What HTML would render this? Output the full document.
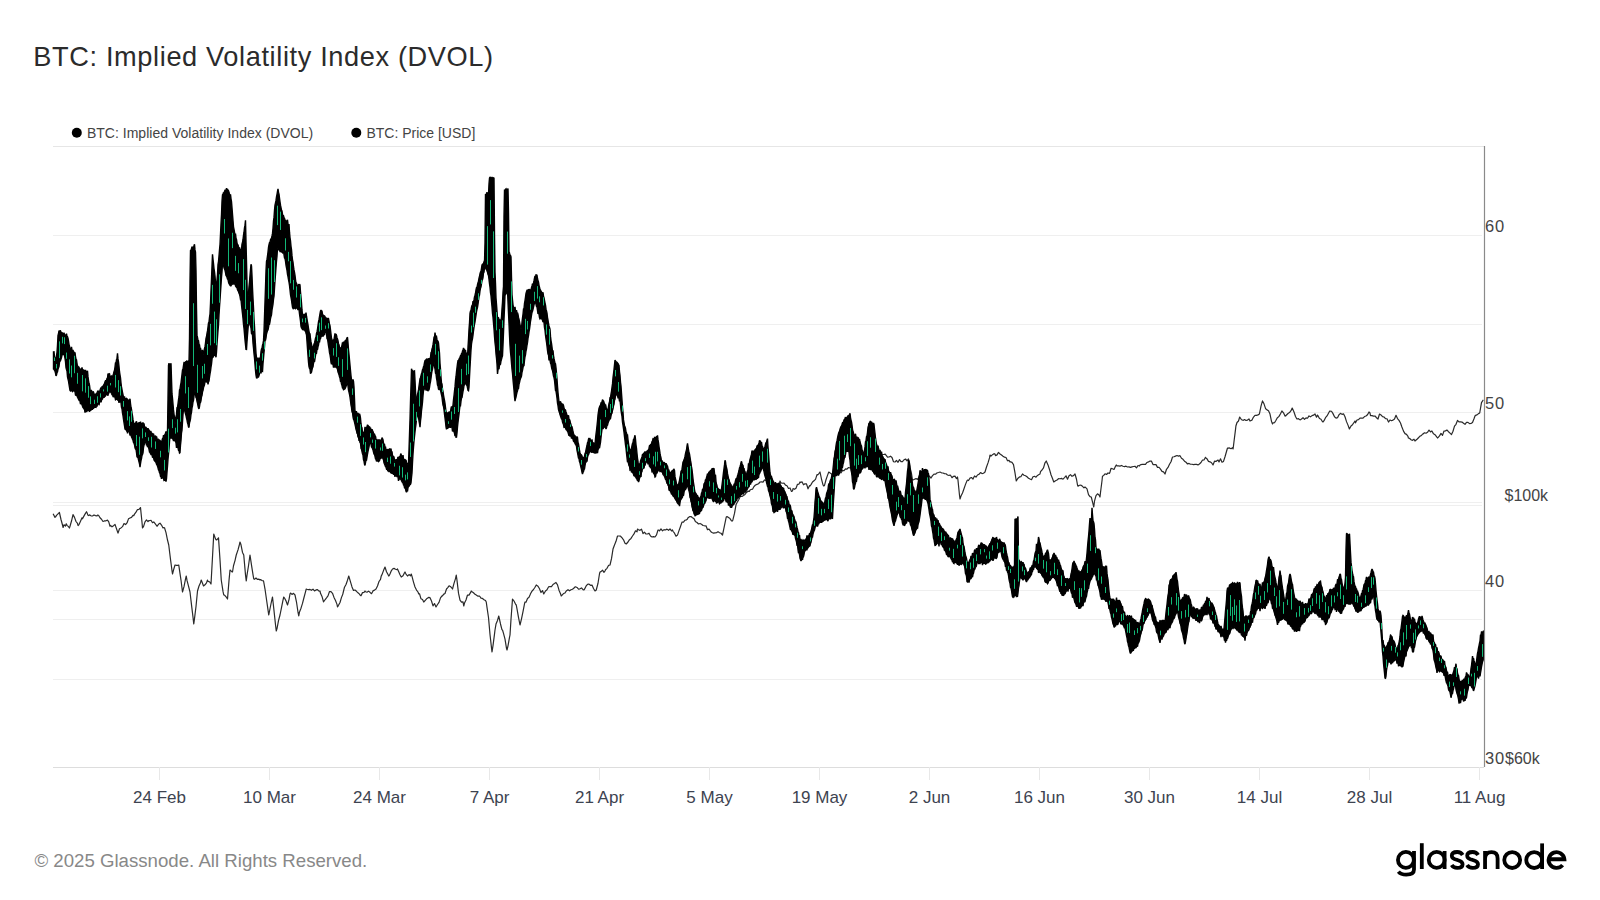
<!DOCTYPE html>
<html><head><meta charset="utf-8">
<style>
html,body{margin:0;padding:0;background:#fff;width:1600px;height:900px;overflow:hidden}
svg{position:absolute;left:0;top:0;display:block}
text{font-family:"Liberation Sans",sans-serif}
</style></head><body>
<svg width="1600" height="900" viewBox="0 0 1600 900">
<rect width="1600" height="900" fill="#fff"/>
<text x="33.3" y="66" font-size="27.2" letter-spacing="0.62" fill="#2b2b2b">BTC: Implied Volatility Index (DVOL)</text>
<circle cx="76.8" cy="132.8" r="5" fill="#000"/>
<text x="86.9" y="137.6" font-size="14" letter-spacing="0.02" fill="#444444">BTC: Implied Volatility Index (DVOL)</text>
<circle cx="356.3" cy="132.8" r="5" fill="#000"/>
<text x="366.4" y="137.6" font-size="14" fill="#444444">BTC: Price [USD]</text>
<g stroke="#efefef" stroke-width="1"><line x1="53" y1="235.5" x2="1482" y2="235.5"/><line x1="53" y1="324.5" x2="1482" y2="324.5"/><line x1="53" y1="412.5" x2="1482" y2="412.5"/><line x1="53" y1="502.5" x2="1482" y2="502.5"/><line x1="53" y1="505.5" x2="1482" y2="505.5"/><line x1="53" y1="590.5" x2="1482" y2="590.5"/><line x1="53" y1="619.5" x2="1482" y2="619.5"/><line x1="53" y1="679.5" x2="1482" y2="679.5"/></g>
<line x1="53" y1="146.5" x2="1484" y2="146.5" stroke="#e6e6e6" stroke-width="1"/>
<line x1="53" y1="767.5" x2="1484" y2="767.5" stroke="#dddddd" stroke-width="1.2"/>
<g stroke="#e8e8e8" stroke-width="1"><line x1="159.5" y1="767" x2="159.5" y2="780"/><line x1="269.5" y1="767" x2="269.5" y2="780"/><line x1="379.5" y1="767" x2="379.5" y2="780"/><line x1="489.5" y1="767" x2="489.5" y2="780"/><line x1="599.5" y1="767" x2="599.5" y2="780"/><line x1="709.5" y1="767" x2="709.5" y2="780"/><line x1="819.5" y1="767" x2="819.5" y2="780"/><line x1="929.5" y1="767" x2="929.5" y2="780"/><line x1="1039.5" y1="767" x2="1039.5" y2="780"/><line x1="1149.5" y1="767" x2="1149.5" y2="780"/><line x1="1259.5" y1="767" x2="1259.5" y2="780"/><line x1="1369.5" y1="767" x2="1369.5" y2="780"/><line x1="1479.5" y1="767" x2="1479.5" y2="780"/></g>
<path d="M53.1,513.75 L55,517.37 L55.6,516.9 L56.5,515.4 L58,513.85 L59.4,512.5 L61,519.5 L62.5,525.02 L63.1,527.5 L64,524.77 L65.5,526.05 L66.25,523.75 L67,525.37 L68.5,526.66 L69.4,528 L70,526.21 L71.5,521.02 L73,514.59 L74.5,517.4 L76,521.51 L77.5,523.47 L78.1,525.6 L79,524.55 L80.5,521.26 L82,517.8 L82.5,518.75 L83.5,516.91 L85,514.12 L86.5,511.72 L86.9,512.5 L88,515.15 L88.75,515.6 L89.5,514.88 L91,515.79 L92.5,515.99 L94,514.97 L95.5,515.63 L97,515.97 L97.5,515 L98.5,515.27 L100,517.81 L101.5,519.22 L103,521.49 L103.75,521.25 L104.5,520.75 L106,520.79 L107.5,520.18 L108.75,521.9 L110,526.25 L110.5,525.4 L112,526.76 L113.5,525.69 L115,524.4 L116.5,528.68 L118,533.1 L119.5,528.81 L121,527.9 L122.5,526.65 L124,523.58 L125.5,524.53 L126.25,523.75 L127,522.95 L128.5,518.85 L130,517.95 L131.5,517.33 L133,515.28 L133.75,515.6 L134.5,514.2 L136,512.13 L137.5,509.53 L139,509.48 L140.5,507.54 L142,522.29 L142.5,528 L143.5,526.69 L145,521.9 L146.5,519.96 L148,521.65 L148.75,520.6 L149.5,520.71 L151,520.28 L152.5,522.71 L153.75,521.9 L155.5,524.14 L157,526.28 L157.5,525.6 L158.5,524.33 L160,523.1 L161.5,525.08 L163,527.98 L163.75,527.5 L164.5,527.77 L166,532.61 L167.5,540.01 L168.75,545 L170.5,559.38 L171.25,565 L172,570.67 L172.5,574 L173.5,570.22 L175,565 L176.5,565.35 L178,565.28 L178.75,565 L179.5,570.2 L181,580.04 L182.5,592 L184,586.69 L185.5,579.03 L186.25,576 L187,580.4 L188.5,586.08 L190,592 L191.5,604.86 L193,617.18 L193.75,624 L194.5,618.59 L196,606.51 L197.5,591 L199,586.02 L200.5,582.74 L201.25,580 L202,581.86 L203.5,585.99 L205,584.84 L206.5,582.85 L207.5,580 L208,581.36 L209.5,581.76 L211,584.03 L212.5,557.08 L213.75,534 L215.5,538.92 L216.25,540 L217,539.62 L218.5,537.79 L220,559.69 L221.25,580 L223,591.42 L223.75,595 L224.5,595.17 L226,596.74 L227.5,599 L229,580.58 L230,570 L230.5,570.32 L232,571.83 L232.5,572 L233.5,565.74 L235,560.6 L236.25,555 L238,549.91 L239.5,544.25 L240,542 L241,544.82 L242.5,552.48 L243.75,555 L245.5,574.85 L246.25,581 L247,575.06 L248.5,565.75 L250,555 L251.5,565.1 L253,574.69 L253.75,579 L254.5,579.28 L256,578.01 L257.5,579.45 L259,579.17 L260,580 L260.5,579.58 L262,580.56 L263.5,580.74 L265,589.03 L266.5,599.53 L268,609.83 L268.75,615 L269.5,611.25 L271,603.75 L272.5,597 L274,610.61 L275.5,624.72 L276.25,631 L277,628.6 L278.5,620.71 L280,615 L281.5,607.62 L283,600.09 L283.75,597 L284.5,598.08 L286,600.84 L287.5,605 L289,599.58 L290,594 L290.5,593.05 L292,594.41 L293.5,593.3 L295,595 L296.5,602.03 L298,612.23 L298.75,616 L299.5,611.99 L301,608.17 L302.5,603.4 L304,597.52 L305.5,591.93 L306.25,589 L307,589.25 L308.5,589.63 L310,589.43 L311.5,590.33 L313,589.13 L314.5,590.91 L316,589.96 L317.5,589.65 L319,591.18 L320,591 L320.5,593.33 L322,596.4 L323.5,601.89 L325,599.76 L326.5,597.86 L328,595.85 L329.5,591.48 L331,591.54 L332.5,593.27 L334,597.41 L335.5,600.55 L337,604.36 L337.5,607 L338.5,605.34 L340,602.5 L341.5,597.38 L342.5,595 L343,593.24 L344.5,587.2 L346,584.49 L347.5,580.2 L348.75,576 L350.5,581.87 L352,586.92 L353.5,590.42 L355,590 L356.5,591.3 L358,592.81 L359.5,594.18 L360,595 L361,595.75 L362.5,592.63 L364,592.43 L365,591 L365.5,591.71 L367,592.21 L368.5,591.12 L370,592.33 L371.5,593.69 L372.5,592 L373,590.84 L374.5,590.15 L376,588.94 L377.5,586 L379,581.49 L380.5,579.39 L381.25,576 L382,574.65 L383.5,570.59 L385,567 L386.5,571.7 L388,574.51 L388.75,576 L389.5,575.14 L391,571.41 L392.5,569 L394,568.38 L395.5,569.24 L397,569.57 L397.5,569 L398.5,571.17 L400,574.76 L401.25,577 L403,575.73 L404.5,572.8 L405,572 L406,574.09 L407.5,576 L409,574.56 L410.5,575.78 L411.25,574 L412,576.35 L413.5,582.11 L415,587 L416.5,590.05 L418,592 L418.75,594 L419.5,593.78 L421,598.8 L422.5,599.54 L423.75,602 L425.5,600.05 L427,598.42 L428.5,597.39 L430,597.64 L431.5,601.02 L433,605.93 L434.5,603.52 L436,606.97 L437.5,604.52 L439,602.33 L440.5,597.89 L442,595.84 L442.5,596 L443.5,594.37 L445,593.47 L446.5,588.97 L448,587.36 L448.75,586 L449.5,585.91 L451,586.99 L452.5,589 L454,583.36 L455.5,578.56 L456.25,575 L457,580.32 L458.5,593.19 L460,600.12 L461.5,602.19 L463,601.85 L463.75,606 L464.5,603.01 L466,599.96 L467.5,595 L469,595.14 L470.5,592.64 L471.25,591 L472,591.77 L473.5,592.76 L475,594.31 L476.25,595 L478,596.18 L479.5,595.98 L481,598.05 L482.5,598.42 L484,599.68 L485.5,600.54 L486.25,602 L487,607.43 L488.5,617.49 L490,634.45 L491.5,647.89 L492,652 L493,645.61 L494.5,634.06 L495,630 L496,624.04 L497.5,620.46 L498.75,616 L500.5,623.98 L502,629.79 L502.5,630 L503.5,633.4 L505,639.13 L506.5,648.29 L507,650 L508,645.87 L509.5,637.39 L510,635 L511,619.25 L512.5,599 L514,601 L515.5,604.11 L516.25,605 L517,608.89 L518.5,617.29 L520,625 L521.5,618.78 L523,611.65 L524.5,603.81 L525,602 L526,602.17 L527.5,598.41 L529,597.29 L530,595 L530.5,593.69 L532,591.13 L533.5,589.51 L535,587.23 L536.25,585 L538,586.19 L539.5,588.8 L540,590 L541,592.51 L542.5,590.54 L543.75,594 L545.5,591.06 L547,589.84 L548.5,586.91 L550,586.49 L551.5,586.57 L553,584.49 L554.5,583.56 L556,582.5 L557.5,584.82 L559,590.19 L560.5,593.71 L561.25,596 L562,595.22 L563.5,593.55 L565,592.93 L566.25,591 L568,589.72 L569.5,590.82 L571,589.72 L572.5,589.29 L574,588 L575,587 L575.5,586.79 L577,587.43 L578.5,589.05 L580,588.81 L581.5,587.89 L583,589.71 L583.75,590 L584.5,589.25 L586,586.22 L587.5,584.36 L588.75,584 L590.5,585.33 L592,585.1 L593.5,588.47 L595,590.95 L596.25,590 L598,583.24 L599.5,573.78 L600,572 L601,571.64 L602.5,570.2 L604,572.37 L605,571 L605.5,569.72 L607,568.35 L608.5,565.44 L610,565 L611.5,558.64 L613,549.06 L613.75,547 L614.5,544.93 L616,541.34 L617.5,536 L619,535.99 L620.5,536.13 L621.25,537 L622,537.72 L623.5,539.87 L625,543.22 L626.25,544 L628,542 L629.5,539.67 L631,538.43 L632.5,536 L634,533.88 L635.5,530.85 L637,531.85 L637.5,529 L638.5,529.73 L640,530.33 L641.5,529.14 L642.5,532 L643,533.67 L644.5,532.14 L646,534.02 L647.5,534 L649,533.21 L650.5,536.04 L652,537.02 L653.5,536.61 L655,537 L656.5,534.91 L658,530.01 L658.75,530 L659.5,530.95 L661,528.88 L662.5,530.89 L664,529.62 L665,530 L665.5,529.9 L667,529.13 L668.5,530.29 L670,528.95 L671.5,530.95 L672.5,530 L673,531.25 L674.5,533.2 L676,536.24 L677.5,535.07 L679,530.59 L680.5,526.44 L682,522.07 L682.5,522 L683.5,522.06 L685,520.21 L686.5,519.82 L687.5,519 L688,517.69 L689.5,516.66 L691,516.52 L692.5,517.77 L694,518.63 L695.5,521.76 L696.25,522 L697,522.5 L698.5,523.96 L700,523.46 L701.5,524.3 L703,525.51 L704.5,525.74 L705,526 L706,525.83 L707.5,529.68 L709,529.14 L710.5,531.13 L711.25,532 L712,532.54 L713.5,533.15 L715,532.96 L716.5,532.75 L717.5,532 L718,531.6 L719.5,532.78 L721,533.26 L722.5,535 L724,527.97 L725.5,520.58 L726.25,517 L727,516.62 L728.5,517.62 L730,518.61 L731.5,520.81 L732.5,521 L733,519.39 L734.5,513.44 L736,504.85 L737.5,501.83 L739,499.27 L740,497 L740.5,496.17 L742,496.51 L743.5,495.54 L745,494.47 L746.5,492.49 L748,491.21 L749.5,491.32 L750,490 L751,489.5 L752.5,489.19 L754,486.47 L755.5,485.05 L757,484.39 L758.5,483.74 L760,482 L761.5,481.94 L763,482.1 L764.5,479.96 L766,480.43 L767.5,481 L769,481.36 L770.5,482.19 L772,483.51 L773.5,484.97 L775,487 L776.5,484.28 L778,483.61 L779.5,483.13 L780,481 L781,482.95 L782.5,483.26 L784,483.19 L785.5,485.17 L787,485.72 L788.5,488.49 L790,487.96 L791.5,491.39 L792.5,491 L793,488.58 L794.5,489.31 L796,488.2 L797.5,484.29 L799,484.09 L800,482 L800.5,482.56 L802,481.84 L803.5,484.77 L805,483.72 L806.5,483.96 L807.5,487 L808,488.86 L809.5,485.66 L810,486 L811,484.63 L812.5,482.04 L814,480.69 L815.5,479.41 L817,474.62 L817.5,475 L818.5,474.11 L820,472 L821.5,479.05 L823,484.95 L823.75,486 L824.5,485.46 L826,479.75 L827.5,475.35 L828.75,472 L830.5,473.25 L832,474.24 L833.5,476.22 L835,475.62 L836.5,474.62 L838,471.91 L839.5,471.11 L841,472.89 L842.5,470.4 L844,470.72 L845.5,468.97 L847,469.13 L848.5,467.5 L850,468 L851.5,466.84 L853,467.41 L854.5,467.11 L856,468.13 L857.5,465.52 L859,466.53 L860.5,466.13 L862,466.56 L863.5,466.26 L865,465.18 L866.5,465.58 L868,464.78 L868.75,465 L869.5,464.55 L871,463.33 L872.5,463.18 L874,462.81 L875,462 L875.5,461.16 L877,460.68 L878.5,460.52 L880,456.13 L881.5,455.23 L883,454.53 L884.5,454.3 L885,454 L886,455.15 L887.5,457.09 L889,457 L890.5,456.18 L892,457.52 L893.5,461.72 L895,462 L896.5,460.49 L898,462.32 L899.5,459.59 L901,461.65 L902.5,461.59 L903.75,460 L905.5,459 L907,460.76 L908.5,459.01 L910,467.44 L911.5,473.59 L912.5,480 L913,480 L914.5,479.27 L916,478.59 L917.5,479.36 L919,477.18 L920.5,478.38 L922,478.01 L923.5,478.72 L925,476.73 L926.5,479.14 L928,477.06 L929.5,476.06 L930,477 L931,478 L932.5,475.58 L934,474.2 L935.5,474.26 L937,472.88 L938.5,472.47 L940,472 L941.5,472.8 L943,473.03 L944.5,473.66 L946,473.75 L947.5,475.01 L949,475.49 L950,475 L950.5,475.23 L952,477.71 L953.5,476.31 L955,476.17 L956.5,478.58 L957.5,477 L958,480.41 L959.5,495.21 L960,499 L961,496.02 L962.5,492.96 L964,488.75 L965.5,484.38 L967,480.77 L967.5,480 L968.5,480.55 L970,478.1 L971.5,477.49 L973,479.08 L974.5,476 L976,477.09 L977.5,475 L979,474.26 L980.5,472.52 L982,473.61 L983.5,473.21 L985,472 L986.5,466.96 L988,462.88 L989.5,457.95 L990,455 L991,456.09 L992.5,454.66 L994,453.69 L995,454 L995.5,455.69 L997,454.89 L998.5,452.39 L1000,454 L1001.5,455.07 L1003,456.24 L1004.5,457.14 L1006,457.49 L1007.5,460.78 L1009,460.35 L1010,462 L1010.5,461.72 L1012,462.41 L1013.5,464.54 L1015,472.85 L1016.25,481 L1018,478.19 L1019.5,476.94 L1021,476.55 L1022.5,474 L1024,475.21 L1025.5,475.7 L1027,476.77 L1028.5,478.19 L1030,479 L1031.5,479.7 L1033,476.79 L1034.5,476.24 L1036,477.2 L1037.5,475.45 L1039,474.54 L1040,474 L1040.5,471.55 L1042,470.01 L1043.5,467.8 L1045,462.79 L1046.25,461 L1048,464.89 L1049.5,469.44 L1051,474.76 L1052.5,478.5 L1053.75,482 L1055.5,480.73 L1057,479.96 L1058.5,478.69 L1060,478.77 L1061.5,478.37 L1062.5,479 L1063,479.08 L1064.5,477.6 L1066,475.81 L1067.5,479.24 L1069,475.65 L1070.5,474.67 L1072,476.32 L1073.5,475.65 L1075,474 L1076.5,479.27 L1077.5,485 L1078,486.15 L1079.5,485.25 L1081,485.21 L1082.5,486.31 L1084,487.82 L1085,487 L1085.5,487.45 L1087,488.95 L1088.5,494.55 L1090,496.64 L1091.25,497 L1093,503.88 L1093.75,507 L1094.5,501.21 L1096,495.55 L1097.5,493.8 L1099,495.01 L1100,497 L1100.5,492.48 L1102,480.72 L1102.5,476 L1103.5,475.7 L1105,473.82 L1106.5,474.48 L1108,472.96 L1109.5,473.33 L1110,472 L1111,468.39 L1112.5,468.77 L1114,469.46 L1115.5,466.26 L1116.25,465 L1117,465.93 L1118.5,465.85 L1120,466.08 L1121.5,465.47 L1123,466.27 L1124.5,466.65 L1126,466.15 L1127.5,467 L1129,466.89 L1130.5,467.39 L1132,466.86 L1133.5,466.48 L1135,466.25 L1136.5,467.89 L1138,465.55 L1139.5,466.02 L1140,465 L1141,464.65 L1142.5,464.24 L1144,464.34 L1145.5,464.32 L1147,462.48 L1148.5,461.93 L1150,461 L1151.5,461.21 L1153,464.61 L1154.5,464.67 L1156,464.65 L1157.5,467.37 L1159,467.25 L1160.5,469.2 L1162,471.42 L1163.5,471.87 L1165,474 L1166.5,469.28 L1168,467.44 L1169.5,464.31 L1171,461.72 L1172.5,457 L1174,456.74 L1175.5,456.12 L1177,455.51 L1178.5,456.11 L1180,455.7 L1181.5,458.31 L1183,459.3 L1184.5,461.14 L1186,462.23 L1187.5,464 L1189,463.42 L1190.5,464.24 L1192,464.26 L1193.5,464.56 L1195,464.42 L1196.5,464.39 L1198,464.89 L1199.4,464 L1201,462.54 L1202.5,460.04 L1204,459.97 L1205.5,457.32 L1205.9,458 L1207,458.84 L1208.5,461.35 L1210,461.81 L1211.5,462.76 L1213,464.95 L1213.4,464 L1214.5,461.19 L1216,461.42 L1217.5,460.27 L1218.1,460 L1219,461.94 L1220.5,458.82 L1222,462.24 L1223.5,461.42 L1225,456.77 L1226.5,451.54 L1227.5,448 L1228,448.17 L1229.5,447.94 L1231,448.76 L1232.5,447.67 L1233.1,449 L1234,441.52 L1235.5,429.6 L1235.9,426 L1237,422.45 L1238.5,421.04 L1239.7,417 L1241.5,419.74 L1242.5,420 L1243,420.41 L1244.5,419.54 L1246,420.52 L1247.5,420.09 L1249,418.92 L1250,421 L1250.5,420.7 L1252,420.09 L1253.5,417.09 L1255,415.38 L1256.5,415.39 L1258,414.87 L1259.4,414 L1261,406.12 L1262.5,400.9 L1264,403.85 L1265.5,408.41 L1265.9,409 L1267,409.85 L1268.5,410.66 L1270,414.06 L1271.5,421.34 L1272.5,424 L1273,422.94 L1274.5,422.74 L1276,420.23 L1277.2,418 L1279,416.41 L1280.5,413.74 L1281.9,411 L1283.5,412.83 L1285,416.11 L1285.6,416 L1286.5,414.96 L1288,413.46 L1289.5,412.58 L1291,410.64 L1292.2,408 L1294,412.06 L1295.5,416.56 L1296.9,419 L1298.5,418.7 L1300,419.9 L1301.5,418.97 L1303,417.68 L1304.5,419.34 L1306,417.81 L1307.5,418.21 L1309,415.91 L1310.5,416.86 L1312,415.63 L1313.5,415.2 L1315,413.96 L1316.5,417.21 L1317.5,415 L1318,415.85 L1319.5,418.51 L1321,419.27 L1322.5,421.72 L1323.1,422 L1324,420.69 L1325.5,417.64 L1327,415.96 L1328.5,413.17 L1329.7,411 L1331.5,411.27 L1333,413.62 L1334.5,416.8 L1336,418.12 L1337.5,417.7 L1339,414.72 L1340.5,413.32 L1342,414.38 L1343.5,413.84 L1345,416.78 L1346.5,421.63 L1348,425.13 L1349.4,429 L1351,425.93 L1352.5,424.7 L1354,422.5 L1355,421 L1355.5,422.84 L1357,419.97 L1358.5,419.71 L1360,418.11 L1361.5,418.08 L1362.5,418 L1363,418.18 L1364.5,416.53 L1366,416.02 L1367.5,414.72 L1369,411.97 L1370,413 L1370.5,415.53 L1372,415.57 L1373.5,416.13 L1375,415.98 L1376.5,417.76 L1378,419.02 L1379.5,414 L1381,414.92 L1382.5,416.63 L1384,416.99 L1385.5,418.55 L1387,418.77 L1388.5,422.06 L1390,419.99 L1391.5,420.71 L1393,420.14 L1394.5,418.92 L1396,415.33 L1397.5,418.6 L1399,420.36 L1400.5,422.96 L1401.9,427 L1403.5,431.12 L1405,433.63 L1406.5,434.39 L1408,436.28 L1408.4,438 L1409.5,438.3 L1411,439.71 L1412.5,440.32 L1414,439.25 L1415,441 L1415.5,440.55 L1417,439.21 L1418.5,437.71 L1420,436.15 L1421.5,435.47 L1422.5,434 L1423,434.04 L1424.5,432.74 L1426,433.24 L1427.5,432.3 L1429,430.02 L1430.5,431.88 L1431.9,431 L1433.5,433.83 L1435,434.73 L1436.5,436.66 L1437.5,438 L1438,437.56 L1439.5,435.9 L1441,433.41 L1442.5,435.4 L1444,431.05 L1445.5,430.88 L1446.9,430 L1448.5,431.7 L1450,433.15 L1451.5,434.61 L1453,431.22 L1454.5,426.16 L1456,424.31 L1457.5,420.42 L1459,421.94 L1460.5,421.81 L1462,422.04 L1463.5,423.19 L1465,424.31 L1466.5,422.36 L1468,422.36 L1469.5,423.65 L1471,423.49 L1472.5,422.43 L1474,418.79 L1475,416 L1475.5,415.38 L1477,414.92 L1478.5,413.61 L1479.7,413 L1481.5,402.59 L1483,400.29 L1483.4,400" fill="none" stroke="#2a2a2a" stroke-width="1.2" stroke-linejoin="round"/>
<path d="M53.5,351.94 L54,351.87 L54.5,356.47 L55,357.65 L55.5,359.22 L56,360.98 L56.5,355.87 L57,352.35 L57.5,345.2 L58,335.32 L58.5,333.76 L59,330.67 L59.5,331.18 L60,331 L60.5,330.82 L61,332.21 L61.5,332.48 L62,333.24 L62.5,332.56 L63,334.1 L63.5,334.76 L64,332.81 L64.5,334.58 L65,334.91 L65.5,335.66 L66,335.39 L66.5,333.56 L67,336.33 L67.5,336.63 L68,338.1 L68.5,340.87 L69,344.36 L69.5,346.08 L70,349.13 L70.5,350.26 L71,349.79 L71.5,346.96 L72,350.07 L72.5,350.56 L73,349.9 L73.5,352.39 L74,352.15 L74.5,352.93 L75,352.39 L75.5,356.56 L76,359.12 L76.5,359.69 L77,363.28 L77.5,366.71 L78,365.93 L78.5,367.89 L79,367.41 L79.5,368.52 L80,369.13 L80.5,369.94 L81,369.36 L81.5,370.46 L82,367.33 L82.5,370.3 L83,370.86 L83.5,369.41 L84,372.04 L84.5,370.95 L85,371.53 L85.5,369.88 L86,371.83 L86.5,372.4 L87,372 L87.5,370.76 L88,376.65 L88.5,380.31 L89,383.29 L89.5,385.21 L90,389.21 L90.5,390.97 L91,390.43 L91.5,390.39 L92,392.97 L92.5,392.94 L93,391.42 L93.5,391.98 L94,393.87 L94.5,394.37 L95,394.29 L95.5,395 L96,394.08 L96.5,393.36 L97,392.88 L97.5,391.54 L98,390.93 L98.5,391.75 L99,391.68 L99.5,391.34 L100,390.34 L100.5,388.85 L101,387.64 L101.5,389.53 L102,386.78 L102.5,386.53 L103,386.41 L103.5,385.32 L104,384.43 L104.5,383.57 L105,381.77 L105.5,380.87 L106,380.93 L106.5,380.03 L107,378.45 L107.5,378 L108,373.57 L108.5,374.22 L109,374.02 L109.5,373.74 L110,376.82 L110.5,376.95 L111,377.6 L111.5,375.51 L112,377.7 L112.5,378.4 L113,375.65 L113.5,373.73 L114,371.6 L114.5,370.34 L115,367.04 L115.5,362.53 L116,362.9 L116.5,359.65 L117,358.17 L117.5,353.36 L118,358.89 L118.5,361.95 L119,366.38 L119.5,371.71 L120,374.78 L120.5,377.74 L121,383.01 L121.5,386.94 L122,389.52 L122.5,392.27 L123,394.75 L123.5,397.2 L124,399.32 L124.5,396.43 L125,399.83 L125.5,399.45 L126,398.6 L126.5,398.44 L127,399.73 L127.5,399.32 L128,400.67 L128.5,400.26 L129,400.67 L129.5,400.71 L130,398.71 L130.5,403.51 L131,407.23 L131.5,409.43 L132,413.09 L132.5,415.77 L133,419.7 L133.5,422.12 L134,424.36 L134.5,424.67 L135,423.61 L135.5,423.8 L136,422.16 L136.5,421.5 L137,423.28 L137.5,423.78 L138,424.23 L138.5,423.11 L139,422.68 L139.5,422.67 L140,423.93 L140.5,421.69 L141,423.61 L141.5,424.03 L142,423.52 L142.5,424.37 L143,422.44 L143.5,424.63 L144,423.38 L144.5,427.08 L145,427.03 L145.5,427.83 L146,427.46 L146.5,428.16 L147,428.95 L147.5,429.97 L148,428.08 L148.5,430.01 L149,429.93 L149.5,431.03 L150,431.06 L150.5,431.93 L151,431.71 L151.5,433.78 L152,432.95 L152.5,434.75 L153,434.56 L153.5,433.55 L154,436.09 L154.5,436.71 L155,437.09 L155.5,435.59 L156,437.36 L156.5,436.37 L157,438.52 L157.5,439.98 L158,438.58 L158.5,440.43 L159,439.57 L159.5,440.53 L160,440.49 L160.5,441.33 L161,441.8 L161.5,441.4 L162,440.52 L162.5,438.75 L163,438.92 L163.5,435.19 L164,437.36 L164.5,435 L165,434.32 L165.5,433.3 L166,431.47 L166.5,433.38 L167,432.61 L167.5,430.43 L168,398.2 L168.5,365.31 L169,363.15 L169.5,365.2 L170,365.18 L170.5,365.04 L171,363.15 L171.5,379.08 L172,393.9 L172.5,398.28 L173,404.01 L173.5,409.88 L174,414.15 L174.5,417.38 L175,424.69 L175.5,419.98 L176,416.82 L176.5,414.41 L177,407.56 L177.5,407.23 L178,403.81 L178.5,399.73 L179,396.94 L179.5,390.08 L180,389.2 L180.5,385.42 L181,382.83 L181.5,378.67 L182,374.37 L182.5,370.01 L183,369.02 L183.5,365.68 L184,362.51 L184.5,362.64 L185,362.7 L185.5,361.89 L186,362.06 L186.5,361.2 L187,361.76 L187.5,362.61 L188,361.21 L188.5,361.4 L189,361.96 L189.5,338.71 L190,282.37 L190.5,250.46 L191,249.8 L191.5,248.78 L192,246.53 L192.5,248.59 L193,248.29 L193.5,247.75 L194,245.64 L194.5,244.24 L195,249.91 L195.5,252.13 L196,270.58 L196.5,309.07 L197,335.13 L197.5,337.46 L198,340.32 L198.5,340.67 L199,344.46 L199.5,344.92 L200,348.66 L200.5,347.9 L201,351.21 L201.5,350.51 L202,352.6 L202.5,349.97 L203,353.14 L203.5,354.38 L204,351.71 L204.5,348.3 L205,346.65 L205.5,343.11 L206,338.42 L206.5,336.81 L207,333.43 L207.5,330.89 L208,327.08 L208.5,323.07 L209,322.19 L209.5,317.43 L210,314.05 L210.5,303.76 L211,290.28 L211.5,279 L212,266.38 L212.5,254.33 L213,259.22 L213.5,263.63 L214,268.51 L214.5,271.73 L215,275.98 L215.5,282.28 L216,286.01 L216.5,285.56 L217,279.99 L217.5,274.84 L218,264.63 L218.5,261.61 L219,256.05 L219.5,249.83 L220,244.46 L220.5,234.17 L221,223.75 L221.5,214.44 L222,201.21 L222.5,194.81 L223,194.37 L223.5,192.37 L224,192.93 L224.5,191.43 L225,190.18 L225.5,190.19 L226,190.79 L226.5,188.23 L227,189.53 L227.5,188.88 L228,190.31 L228.5,190.67 L229,192.19 L229.5,193.95 L230,195.47 L230.5,194.3 L231,198.76 L231.5,201.63 L232,207.9 L232.5,214.4 L233,220.57 L233.5,226.8 L234,229.31 L234.5,232.21 L235,235.19 L235.5,233.64 L236,238.26 L236.5,239.43 L237,242.84 L237.5,244.95 L238,244.97 L238.5,246.73 L239,248.13 L239.5,247.42 L240,249 L240.5,250.41 L241,250.47 L241.5,249.27 L242,244.1 L242.5,242.56 L243,239.47 L243.5,235.34 L244,232.22 L244.5,227.77 L245,225.13 L245.5,220.38 L246,241.88 L246.5,261.48 L247,283.03 L247.5,304.91 L248,296.4 L248.5,293.09 L249,286.62 L249.5,281.82 L250,275.5 L250.5,269.89 L251,264.3 L251.5,265.89 L252,275.86 L252.5,288.26 L253,298.36 L253.5,307.7 L254,319.27 L254.5,326.34 L255,336.81 L255.5,345.41 L256,353.36 L256.5,357.86 L257,358.53 L257.5,358.82 L258,358.27 L258.5,359.19 L259,358.84 L259.5,358.83 L260,357.75 L260.5,356.99 L261,351.63 L261.5,348.94 L262,348.28 L262.5,345.19 L263,343.49 L263.5,340.65 L264,331.38 L264.5,316.63 L265,301.69 L265.5,287.29 L266,270.97 L266.5,261.28 L267,259.45 L267.5,255.88 L268,252.1 L268.5,247.24 L269,244.62 L269.5,242.61 L270,242.81 L270.5,239.74 L271,238.92 L271.5,238.07 L272,235.88 L272.5,233.39 L273,228.2 L273.5,221.14 L274,217.38 L274.5,210.23 L275,205.09 L275.5,203.04 L276,200.39 L276.5,196.81 L277,194.33 L277.5,191.3 L278,188.92 L278.5,192.34 L279,194.19 L279.5,198.08 L280,201.83 L280.5,205.14 L281,207.55 L281.5,210.18 L282,211.07 L282.5,214.28 L283,215.43 L283.5,215.72 L284,217.74 L284.5,218.42 L285,219.91 L285.5,220.49 L286,221.94 L286.5,222.42 L287,220.53 L287.5,219.78 L288,224.05 L288.5,224.71 L289,224.08 L289.5,232.18 L290,237.49 L290.5,240.89 L291,246.32 L291.5,249.65 L292,255.68 L292.5,259.79 L293,262.13 L293.5,266.71 L294,269.92 L294.5,272.42 L295,275.39 L295.5,279.6 L296,283.45 L296.5,283.32 L297,284.96 L297.5,285.51 L298,285.72 L298.5,284.96 L299,285.89 L299.5,284.08 L300,284.94 L300.5,291.98 L301,297.38 L301.5,303.01 L302,309.94 L302.5,315.16 L303,315.44 L303.5,316.36 L304,313.77 L304.5,315.79 L305,314.88 L305.5,314.91 L306,312.61 L306.5,316.23 L307,319.1 L307.5,322.04 L308,324.84 L308.5,328.26 L309,331.32 L309.5,333.59 L310,333.78 L310.5,338.72 L311,341.94 L311.5,344.37 L312,346.32 L312.5,348.23 L313,347.23 L313.5,346.47 L314,343.98 L314.5,343 L315,340.58 L315.5,338.3 L316,337.1 L316.5,333.31 L317,331.93 L317.5,329.07 L318,325.63 L318.5,321.82 L319,319.71 L319.5,316.72 L320,313.62 L320.5,310.95 L321,310.06 L321.5,311.09 L322,311.13 L322.5,314.16 L323,314.85 L323.5,315.93 L324,316.05 L324.5,315.89 L325,316.58 L325.5,318.43 L326,317.37 L326.5,319.28 L327,318.95 L327.5,319.46 L328,318.45 L328.5,318.64 L329,321.1 L329.5,324.28 L330,325.76 L330.5,329.72 L331,334.13 L331.5,338.3 L332,339.92 L332.5,343.57 L333,343.56 L333.5,339.75 L334,339.53 L334.5,336.33 L335,333.34 L335.5,335.44 L336,334.07 L336.5,335.29 L337,337.67 L337.5,339.09 L338,340.67 L338.5,343.68 L339,344.81 L339.5,347.3 L340,349.41 L340.5,348.36 L341,347.76 L341.5,347.16 L342,345.11 L342.5,342.48 L343,344.49 L343.5,341.6 L344,343.5 L344.5,342.83 L345,341.09 L345.5,340.31 L346,340.02 L346.5,339.28 L347,337.83 L347.5,337.36 L348,342.83 L348.5,349.59 L349,354.25 L349.5,359.81 L350,365.17 L350.5,370.57 L351,375.78 L351.5,379.75 L352,380.58 L352.5,380.54 L353,379.55 L353.5,381.39 L354,386.93 L354.5,398.91 L355,411.53 L355.5,411.37 L356,411.78 L356.5,411.76 L357,413.56 L357.5,414.16 L358,413 L358.5,415.13 L359,414.96 L359.5,413.85 L360,415.21 L360.5,418.13 L361,423.69 L361.5,427.06 L362,427.78 L362.5,433.15 L363,432.75 L363.5,433.18 L364,432.06 L364.5,431.17 L365,426.95 L365.5,428.46 L366,427.74 L366.5,427.55 L367,426.7 L367.5,424.69 L368,426.16 L368.5,426.01 L369,427 L369.5,426.29 L370,428.52 L370.5,427.55 L371,429.81 L371.5,430 L372,429.11 L372.5,430.77 L373,431.48 L373.5,433.25 L374,434.32 L374.5,434.15 L375,435.74 L375.5,436.4 L376,438.72 L376.5,439.94 L377,440.34 L377.5,441.33 L378,439.7 L378.5,439.92 L379,441.16 L379.5,439.95 L380,439.95 L380.5,440.69 L381,440.39 L381.5,440.07 L382,437.7 L382.5,438.48 L383,439.76 L383.5,443.16 L384,444.04 L384.5,444.22 L385,447.48 L385.5,446.47 L386,450.32 L386.5,450.72 L387,449.17 L387.5,449.88 L388,449.77 L388.5,450.06 L389,449.35 L389.5,449.03 L390,449.83 L390.5,449.91 L391,448.54 L391.5,452.22 L392,451.3 L392.5,455.73 L393,456.71 L393.5,456.4 L394,457.01 L394.5,459.97 L395,461.89 L395.5,459.37 L396,460.74 L396.5,459.23 L397,459.95 L397.5,458.75 L398,457.01 L398.5,458.09 L399,456.96 L399.5,456.79 L400,456.82 L400.5,454.81 L401,453.6 L401.5,456.26 L402,456.82 L402.5,456.62 L403,455.17 L403.5,459.01 L404,459.59 L404.5,459.92 L405,459.15 L405.5,461.15 L406,459.8 L406.5,462.73 L407,463.62 L407.5,464.4 L408,463.39 L408.5,463.5 L409,449.68 L409.5,434.48 L410,419.47 L410.5,401.41 L411,385.84 L411.5,368.65 L412,372.45 L412.5,369.86 L413,372.76 L413.5,372.65 L414,371.23 L414.5,370.96 L415,380.2 L415.5,390.9 L416,400.23 L416.5,401.76 L417,398.67 L417.5,394.54 L418,392.31 L418.5,389.96 L419,386.05 L419.5,382.63 L420,378.61 L420.5,377.76 L421,375.59 L421.5,373.82 L422,372.25 L422.5,369.79 L423,368.87 L423.5,366.79 L424,365.46 L424.5,362.53 L425,360.7 L425.5,360.24 L426,361.59 L426.5,359.17 L427,359.56 L427.5,360.92 L428,358.42 L428.5,359.84 L429,358.16 L429.5,359.66 L430,359.19 L430.5,357.3 L431,352.62 L431.5,352.08 L432,349.01 L432.5,347.42 L433,344.63 L433.5,341.25 L434,337.3 L434.5,337.4 L435,332.56 L435.5,335.62 L436,336.87 L436.5,336.53 L437,339.68 L437.5,340.74 L438,341.18 L438.5,342.89 L439,348.33 L439.5,353.1 L440,363.19 L440.5,369.35 L441,377.39 L441.5,383.17 L442,383.93 L442.5,389.31 L443,391.45 L443.5,395.02 L444,397.9 L444.5,400.47 L445,403.45 L445.5,407.67 L446,411.56 L446.5,412.49 L447,414.09 L447.5,413.96 L448,412.78 L448.5,412.89 L449,412.05 L449.5,412.11 L450,411.76 L450.5,411.53 L451,408.42 L451.5,406.31 L452,409.21 L452.5,407.55 L453,405.02 L453.5,399.73 L454,395.81 L454.5,391.05 L455,386.89 L455.5,380.65 L456,376.71 L456.5,371.82 L457,367.54 L457.5,363.61 L458,360.7 L458.5,360.68 L459,359.23 L459.5,358.13 L460,357.25 L460.5,355.69 L461,355.49 L461.5,353.63 L462,353.84 L462.5,351.09 L463,350.08 L463.5,347.81 L464,350.13 L464.5,348.93 L465,351.49 L465.5,350.01 L466,354.05 L466.5,352.78 L467,353.83 L467.5,356.81 L468,347.05 L468.5,339.22 L469,329.36 L469.5,323.15 L470,313.39 L470.5,310.97 L471,310.4 L471.5,307.11 L472,305.54 L472.5,305.15 L473,301.11 L473.5,301.84 L474,299.93 L474.5,296.84 L475,295.18 L475.5,293.25 L476,289.87 L476.5,287.76 L477,287.95 L477.5,284.72 L478,282.79 L478.5,281.18 L479,278.26 L479.5,276.51 L480,273.64 L480.5,271.95 L481,271.29 L481.5,268.36 L482,264.94 L482.5,264.2 L483,264.15 L483.5,263.35 L484,261.79 L484.5,262.25 L485,242.74 L485.5,193.89 L486,195.01 L486.5,193.7 L487,192.23 L487.5,195.23 L488,193.45 L488.5,194.8 L489,184.08 L489.5,178.27 L490,176.95 L490.5,177.88 L491,178.85 L491.5,177.97 L492,176.93 L492.5,178.73 L493,178.06 L493.5,177.79 L494,178.13 L494.5,233.71 L495,272.12 L495.5,283.6 L496,297.96 L496.5,304.19 L497,311.13 L497.5,318.43 L498,318.07 L498.5,317.81 L499,319.52 L499.5,320.11 L500,319.57 L500.5,321.38 L501,320.69 L501.5,316.97 L502,308.85 L502.5,302.49 L503,292.3 L503.5,286.68 L504,216.82 L504.5,190.23 L505,190.17 L505.5,189.51 L506,188.91 L506.5,190.09 L507,189.43 L507.5,189.67 L508,188.59 L508.5,212.74 L509,253.39 L509.5,252.95 L510,255.4 L510.5,255.48 L511,256.91 L511.5,277.16 L512,294.86 L512.5,300.06 L513,304.8 L513.5,307.51 L514,309.32 L514.5,308.6 L515,306.85 L515.5,310.95 L516,310.86 L516.5,310.23 L517,313.17 L517.5,312.61 L518,314.48 L518.5,317.43 L519,319.24 L519.5,321.75 L520,324.62 L520.5,326.57 L521,328.69 L521.5,327.83 L522,322.25 L522.5,317.85 L523,314.32 L523.5,308.93 L524,308.8 L524.5,303.33 L525,300.5 L525.5,297.1 L526,293.47 L526.5,291.62 L527,290.31 L527.5,290.44 L528,289.9 L528.5,291.03 L529,289.69 L529.5,289.56 L530,290.11 L530.5,289.99 L531,289.98 L531.5,287.71 L532,285.93 L532.5,283.78 L533,284.27 L533.5,282.99 L534,280.74 L534.5,278.19 L535,276.01 L535.5,277.03 L536,274.87 L536.5,274.98 L537,275.24 L537.5,278.5 L538,280.85 L538.5,282.02 L539,285.35 L539.5,287.27 L540,289.35 L540.5,290.04 L541,291.17 L541.5,291.76 L542,293.7 L542.5,293.35 L543,292.44 L543.5,296.33 L544,297.67 L544.5,300.26 L545,302.86 L545.5,305.23 L546,309.13 L546.5,310.99 L547,313.05 L547.5,317.55 L548,320.2 L548.5,323.49 L549,325.97 L549.5,327.44 L550,329.21 L550.5,336.4 L551,340.59 L551.5,343.46 L552,347.03 L552.5,351.55 L553,350.26 L553.5,355.52 L554,358.38 L554.5,360.83 L555,363.16 L555.5,363.74 L556,367.83 L556.5,373.27 L557,379.03 L557.5,386.36 L558,392.61 L558.5,397.28 L559,401.84 L559.5,402.17 L560,402.12 L560.5,401.46 L561,403.71 L561.5,403.55 L562,403.96 L562.5,404.09 L563,404.29 L563.5,405.52 L564,407.86 L564.5,409.32 L565,409.66 L565.5,410.17 L566,411.94 L566.5,413.36 L567,415.08 L567.5,415.71 L568,416.36 L568.5,415.32 L569,419.34 L569.5,419.53 L570,420.67 L570.5,423.31 L571,424.7 L571.5,427.1 L572,426.88 L572.5,428.94 L573,431.82 L573.5,433.46 L574,434.94 L574.5,435.83 L575,435.76 L575.5,437.18 L576,437.53 L576.5,437.02 L577,436.85 L577.5,437.48 L578,442.37 L578.5,443.98 L579,447.2 L579.5,450.53 L580,452.69 L580.5,454.45 L581,455.61 L581.5,454.97 L582,456.06 L582.5,458.05 L583,456.99 L583.5,459.13 L584,457.64 L584.5,456.49 L585,453.59 L585.5,452.67 L586,450.01 L586.5,447.73 L587,445.53 L587.5,442.72 L588,441.95 L588.5,439.26 L589,438.01 L589.5,438.94 L590,438.76 L590.5,440.37 L591,441 L591.5,442.18 L592,439.39 L592.5,443 L593,442.97 L593.5,442.39 L594,444.01 L594.5,442.8 L595,444.91 L595.5,438.73 L596,434.13 L596.5,430.37 L597,425.74 L597.5,421.13 L598,415.12 L598.5,411.64 L599,408.37 L599.5,407.12 L600,405.93 L600.5,405.14 L601,403 L601.5,403.26 L602,402.02 L602.5,399.6 L603,400.95 L603.5,400.91 L604,402.35 L604.5,403.38 L605,405.89 L605.5,404.5 L606,406.7 L606.5,409.74 L607,409.45 L607.5,411.27 L608,409.59 L608.5,406.7 L609,403.47 L609.5,401.97 L610,397.7 L610.5,397.24 L611,394.13 L611.5,391.3 L612,387.4 L612.5,383.93 L613,377.89 L613.5,373.92 L614,369.62 L614.5,364.9 L615,360.13 L615.5,360.92 L616,361.41 L616.5,362.58 L617,361.82 L617.5,363.66 L618,363.61 L618.5,364.64 L619,365.26 L619.5,371.76 L620,375.32 L620.5,382.25 L621,385.96 L621.5,393.29 L622,399.98 L622.5,407.26 L623,412.41 L623.5,419.88 L624,422.56 L624.5,425.94 L625,426.86 L625.5,428.41 L626,431.73 L626.5,432.95 L627,435.17 L627.5,435.1 L628,439.79 L628.5,443.41 L629,446.98 L629.5,448.49 L630,452.73 L630.5,452.49 L631,449.49 L631.5,448.43 L632,445.75 L632.5,443.51 L633,442.56 L633.5,439.39 L634,439.14 L634.5,437.08 L635,435.27 L635.5,439.22 L636,444.86 L636.5,448.27 L637,453.5 L637.5,458.31 L638,461.39 L638.5,467.7 L639,468.2 L639.5,463.92 L640,463.85 L640.5,461.19 L641,459.47 L641.5,458.29 L642,456.9 L642.5,454.55 L643,454.26 L643.5,453.57 L644,453.65 L644.5,452.55 L645,451.8 L645.5,452.03 L646,452.67 L646.5,451.95 L647,451.2 L647.5,451.99 L648,450.24 L648.5,449.63 L649,448.26 L649.5,445.72 L650,445.35 L650.5,444.85 L651,444.35 L651.5,443.8 L652,441.58 L652.5,441.11 L653,438.77 L653.5,439.03 L654,440.28 L654.5,437.46 L655,437.66 L655.5,438.39 L656,437.97 L656.5,436.29 L657,437.07 L657.5,435.41 L658,439.67 L658.5,442.54 L659,446.59 L659.5,449.7 L660,453.19 L660.5,455.92 L661,457.87 L661.5,461.58 L662,460.5 L662.5,461.81 L663,463.02 L663.5,462.47 L664,462.45 L664.5,462.77 L665,463.78 L665.5,464.4 L666,463.33 L666.5,464.4 L667,465.43 L667.5,466.04 L668,468.56 L668.5,470.98 L669,470.53 L669.5,472.82 L670,471.85 L670.5,473.63 L671,473.64 L671.5,471.45 L672,470.84 L672.5,470.69 L673,470.78 L673.5,469.27 L674,469.19 L674.5,470.5 L675,476.65 L675.5,478.84 L676,480.92 L676.5,484.43 L677,483.76 L677.5,488.29 L678,487.22 L678.5,484.88 L679,482.42 L679.5,480.35 L680,477.42 L680.5,475.3 L681,471.41 L681.5,471.54 L682,469.15 L682.5,465.51 L683,462 L683.5,461.46 L684,459.74 L684.5,458.52 L685,456.45 L685.5,453.74 L686,451.46 L686.5,450.01 L687,446.12 L687.5,443.25 L688,446.57 L688.5,449.73 L689,452.59 L689.5,453.98 L690,457.02 L690.5,460.47 L691,463 L691.5,466.94 L692,469.63 L692.5,474.12 L693,478.72 L693.5,482.75 L694,485.81 L694.5,489.86 L695,492.18 L695.5,493.17 L696,493.49 L696.5,495.1 L697,495.38 L697.5,495.42 L698,496.88 L698.5,497.5 L699,498.58 L699.5,497.84 L700,499.06 L700.5,497.05 L701,496.12 L701.5,493.11 L702,492.48 L702.5,489.39 L703,489.08 L703.5,488.16 L704,483.71 L704.5,483.6 L705,482 L705.5,479.8 L706,479.59 L706.5,477.56 L707,475.87 L707.5,473.59 L708,474.49 L708.5,473.14 L709,472 L709.5,471.81 L710,471.4 L710.5,470.51 L711,470.54 L711.5,470.94 L712,468.44 L712.5,468.95 L713,468.59 L713.5,468.85 L714,468.21 L714.5,473.14 L715,475.37 L715.5,474.89 L716,481.6 L716.5,484.29 L717,485.75 L717.5,489.07 L718,487.99 L718.5,490.38 L719,489.07 L719.5,489.72 L720,491.27 L720.5,490.4 L721,490.8 L721.5,488.82 L722,485.11 L722.5,481.09 L723,476.71 L723.5,472.45 L724,468.66 L724.5,464.92 L725,460.21 L725.5,461.62 L726,465.78 L726.5,467.8 L727,469.54 L727.5,473.63 L728,475.94 L728.5,478.5 L729,479.58 L729.5,481.7 L730,482.71 L730.5,484.24 L731,484.44 L731.5,486.85 L732,485.5 L732.5,488.8 L733,487.9 L733.5,487.04 L734,484.45 L734.5,484.67 L735,482.84 L735.5,480.74 L736,478.85 L736.5,478.35 L737,478.04 L737.5,475.82 L738,474.31 L738.5,472.54 L739,470.53 L739.5,467.92 L740,466.69 L740.5,464.97 L741,462.71 L741.5,461.29 L742,463.45 L742.5,465.17 L743,465.36 L743.5,468.68 L744,468.16 L744.5,471.7 L745,471.59 L745.5,473.83 L746,474.77 L746.5,475.33 L747,472.13 L747.5,471.01 L748,469.14 L748.5,463.43 L749,464.57 L749.5,462.33 L750,459.36 L750.5,458.12 L751,455.94 L751.5,454.21 L752,450.64 L752.5,451.66 L753,451.62 L753.5,451.11 L754,451.47 L754.5,451.74 L755,449.35 L755.5,450.46 L756,448.52 L756.5,448.33 L757,445.92 L757.5,445.73 L758,445.23 L758.5,444.44 L759,442.96 L759.5,440.85 L760,440.91 L760.5,441.18 L761,442.95 L761.5,442.16 L762,445.78 L762.5,446.55 L763,448.03 L763.5,449.06 L764,448.71 L764.5,447.96 L765,446.41 L765.5,444.14 L766,442.71 L766.5,442.08 L767,440.24 L767.5,438.65 L768,446.95 L768.5,452.74 L769,460.08 L769.5,467.11 L770,472.72 L770.5,475.16 L771,476.82 L771.5,476.53 L772,478.62 L772.5,479.72 L773,481.85 L773.5,481.62 L774,483.88 L774.5,483.34 L775,483.46 L775.5,482.12 L776,484.62 L776.5,483.56 L777,484.36 L777.5,484.36 L778,484.44 L778.5,482.86 L779,484.48 L779.5,484.2 L780,483.91 L780.5,486.25 L781,485.52 L781.5,487.24 L782,487.97 L782.5,487.05 L783,489 L783.5,488.03 L784,489.93 L784.5,491.12 L785,492.04 L785.5,493.65 L786,494.33 L786.5,497.14 L787,496.89 L787.5,499.35 L788,501.49 L788.5,501.33 L789,503.84 L789.5,505.64 L790,504.65 L790.5,506.42 L791,509.99 L791.5,510.66 L792,511.03 L792.5,514.95 L793,514.78 L793.5,516.94 L794,516.62 L794.5,518.92 L795,520.51 L795.5,522.34 L796,522.14 L796.5,525.2 L797,527.4 L797.5,529.21 L798,531.89 L798.5,532.54 L799,535.91 L799.5,535.04 L800,539.86 L800.5,539.53 L801,539.43 L801.5,540.4 L802,540.75 L802.5,540.73 L803,539.84 L803.5,540.61 L804,540.35 L804.5,540.13 L805,541.59 L805.5,540.32 L806,538.86 L806.5,538.72 L807,535.27 L807.5,537.96 L808,536.61 L808.5,535.83 L809,535.66 L809.5,533.34 L810,533.84 L810.5,532.95 L811,531.31 L811.5,529.78 L812,526.83 L812.5,524.78 L813,524.57 L813.5,520.75 L814,517.51 L814.5,511.22 L815,501.9 L815.5,497.32 L816,488.87 L816.5,487.26 L817,489.24 L817.5,491.22 L818,492.77 L818.5,494.34 L819,496.46 L819.5,497.22 L820,498.16 L820.5,500.72 L821,500.85 L821.5,501.39 L822,502.17 L822.5,502.37 L823,503.14 L823.5,504.52 L824,505.86 L824.5,503.43 L825,500.64 L825.5,497.99 L826,497.48 L826.5,493.83 L827,492.59 L827.5,491.03 L828,489.52 L828.5,485.06 L829,483.33 L829.5,484.24 L830,481.36 L830.5,479.91 L831,478.97 L831.5,477.6 L832,474.48 L832.5,474.19 L833,468.95 L833.5,464.4 L834,458.46 L834.5,456.74 L835,451.22 L835.5,450 L836,445.91 L836.5,442.72 L837,440.94 L837.5,438.12 L838,435.71 L838.5,433.57 L839,432 L839.5,431.34 L840,429.16 L840.5,427.86 L841,426.68 L841.5,425.85 L842,424.48 L842.5,422.78 L843,423.08 L843.5,421.75 L844,420.14 L844.5,420.54 L845,418.54 L845.5,417.1 L846,418.89 L846.5,418.36 L847,417.42 L847.5,416.74 L848,415.55 L848.5,416.33 L849,415.12 L849.5,415.12 L850,413.22 L850.5,417.57 L851,420.08 L851.5,421.92 L852,425.14 L852.5,429.36 L853,431.59 L853.5,432.81 L854,437.1 L854.5,435.17 L855,435 L855.5,433.91 L856,436.78 L856.5,437.59 L857,436.75 L857.5,438.21 L858,438.63 L858.5,438.14 L859,439.81 L859.5,439.17 L860,441.8 L860.5,443.62 L861,445.3 L861.5,445.92 L862,449.74 L862.5,450.57 L863,453.38 L863.5,453.92 L864,453.48 L864.5,450.69 L865,446.89 L865.5,441.79 L866,440.95 L866.5,436.8 L867,435.82 L867.5,432.59 L868,427.28 L868.5,425.66 L869,422.81 L869.5,423.77 L870,421.55 L870.5,421.06 L871,423.32 L871.5,421.64 L872,423.67 L872.5,423.51 L873,424 L873.5,422.94 L874,424.46 L874.5,429.24 L875,433.39 L875.5,438.23 L876,441.48 L876.5,444.33 L877,445.81 L877.5,446.48 L878,445.67 L878.5,448.55 L879,449.87 L879.5,450.49 L880,449.82 L880.5,452.77 L881,453.74 L881.5,451.57 L882,455.12 L882.5,456.97 L883,456.94 L883.5,458.38 L884,458.48 L884.5,460.23 L885,459.01 L885.5,462.13 L886,463.17 L886.5,464.73 L887,466.19 L887.5,468.17 L888,466.33 L888.5,471.03 L889,471.26 L889.5,473.41 L890,474.51 L890.5,472.18 L891,473.75 L891.5,475.04 L892,475.93 L892.5,478.38 L893,479.78 L893.5,479.65 L894,479.94 L894.5,479.52 L895,481.47 L895.5,482.75 L896,480.48 L896.5,483.3 L897,486.69 L897.5,485.54 L898,487.72 L898.5,489.87 L899,491.46 L899.5,492.48 L900,490.87 L900.5,491.78 L901,494.31 L901.5,496.62 L902,496.24 L902.5,495.96 L903,497.54 L903.5,497.93 L904,498.46 L904.5,498.27 L905,499.61 L905.5,492.24 L906,487.86 L906.5,483.86 L907,477.4 L907.5,471.3 L908,467.81 L908.5,460.14 L909,460.91 L909.5,463.3 L910,467.67 L910.5,471.88 L911,475.8 L911.5,479.5 L912,479.8 L912.5,484.61 L913,487.66 L913.5,487.49 L914,489.26 L914.5,490.8 L915,490.83 L915.5,492.78 L916,493.76 L916.5,492.66 L917,489.28 L917.5,486.65 L918,483.74 L918.5,480.98 L919,476.27 L919.5,475.04 L920,470.23 L920.5,471.47 L921,471.66 L921.5,471.7 L922,471.33 L922.5,468.08 L923,471.17 L923.5,470.75 L924,470.99 L924.5,469.31 L925,471.12 L925.5,469.92 L926,469.21 L926.5,470.61 L927,471.08 L927.5,470.62 L928,472.71 L928.5,473.64 L929,478.46 L929.5,488.02 L930,499.39 L930.5,501.02 L931,503.73 L931.5,506.12 L932,508.25 L932.5,509.37 L933,513.53 L933.5,515.41 L934,515.24 L934.5,517.9 L935,517.09 L935.5,519.14 L936,518.73 L936.5,520.02 L937,519.5 L937.5,521.07 L938,520.12 L938.5,522.97 L939,523.32 L939.5,523.86 L940,525.38 L940.5,526.06 L941,526.56 L941.5,527.9 L942,528.21 L942.5,528.68 L943,530.19 L943.5,529.55 L944,530.6 L944.5,531.25 L945,531.8 L945.5,533.3 L946,532.57 L946.5,533.5 L947,534.39 L947.5,534.44 L948,535.46 L948.5,535.69 L949,538.39 L949.5,537.63 L950,539.2 L950.5,537.36 L951,539.74 L951.5,538.18 L952,539.34 L952.5,538.45 L953,541.13 L953.5,540.39 L954,540.8 L954.5,542.86 L955,543.07 L955.5,541.65 L956,540.02 L956.5,539.19 L957,537.66 L957.5,534.94 L958,532.1 L958.5,531.69 L959,530.94 L959.5,530.18 L960,528.89 L960.5,531.28 L961,533.05 L961.5,534.84 L962,536.53 L962.5,538.02 L963,542.87 L963.5,545.54 L964,546.35 L964.5,549.65 L965,552.74 L965.5,555.13 L966,556.67 L966.5,558.42 L967,561.63 L967.5,563.24 L968,562.52 L968.5,563.13 L969,562.1 L969.5,560.87 L970,559.5 L970.5,559.19 L971,555.95 L971.5,557.95 L972,556.73 L972.5,553.18 L973,554.09 L973.5,554.06 L974,553.7 L974.5,550.32 L975,549.62 L975.5,551.22 L976,550.71 L976.5,548.21 L977,549.35 L977.5,549.05 L978,547.67 L978.5,545.7 L979,544.89 L979.5,546.97 L980,546.08 L980.5,545.5 L981,543.1 L981.5,542.94 L982,543.38 L982.5,543.88 L983,544.43 L983.5,544.59 L984,544.63 L984.5,544.82 L985,545.4 L985.5,546.71 L986,546.07 L986.5,546.23 L987,548.12 L987.5,548.68 L988,547.69 L988.5,546.62 L989,545.27 L989.5,545.35 L990,543.12 L990.5,543.69 L991,541.84 L991.5,540.8 L992,539.21 L992.5,538.22 L993,537.07 L993.5,539.89 L994,538.21 L994.5,538.91 L995,538.4 L995.5,539.39 L996,540.77 L996.5,536.99 L997,539.6 L997.5,539.65 L998,540.63 L998.5,540.8 L999,541.26 L999.5,538.79 L1000,539.88 L1000.5,541.5 L1001,542.05 L1001.5,541.96 L1002,542.29 L1002.5,542.6 L1003,543.8 L1003.5,543.75 L1004,542.58 L1004.5,543.93 L1005,544.41 L1005.5,546.08 L1006,550.06 L1006.5,552.9 L1007,555.23 L1007.5,556.98 L1008,559.95 L1008.5,563.04 L1009,562.37 L1009.5,565.48 L1010,565.41 L1010.5,565.45 L1011,567.86 L1011.5,566.74 L1012,566.86 L1012.5,568.77 L1013,567.77 L1013.5,567.78 L1014,566.23 L1014.5,565.72 L1015,518.78 L1015.5,519.92 L1016,519.09 L1016.5,519.76 L1017,519.02 L1017.5,518.42 L1018,516.49 L1018.5,561.59 L1019,559.66 L1019.5,561.59 L1020,561.55 L1020.5,562.74 L1021,562.43 L1021.5,561.91 L1022,563.45 L1022.5,563.91 L1023,562.08 L1023.5,564.53 L1024,563.93 L1024.5,566.79 L1025,567.53 L1025.5,568.3 L1026,569.84 L1026.5,572.23 L1027,573.38 L1027.5,574.46 L1028,572.24 L1028.5,571.91 L1029,572.47 L1029.5,571.43 L1030,568.73 L1030.5,567.66 L1031,568.67 L1031.5,567.16 L1032,565.84 L1032.5,566.18 L1033,564.6 L1033.5,560.98 L1034,560.48 L1034.5,557.22 L1035,553.74 L1035.5,552.1 L1036,551.18 L1036.5,543.89 L1037,546.18 L1037.5,545.36 L1038,542.48 L1038.5,537.06 L1039,538.59 L1039.5,542.78 L1040,542.83 L1040.5,545.26 L1041,548.04 L1041.5,549.45 L1042,552.22 L1042.5,554.4 L1043,556.31 L1043.5,558.89 L1044,557.31 L1044.5,555.83 L1045,555.32 L1045.5,553.36 L1046,553.35 L1046.5,552.11 L1047,550.74 L1047.5,549.8 L1048,551.59 L1048.5,553.36 L1049,558.15 L1049.5,561.38 L1050,565 L1050.5,561.43 L1051,559.16 L1051.5,560.04 L1052,557.98 L1052.5,557.49 L1053,554.85 L1053.5,554.69 L1054,553 L1054.5,554.47 L1055,556.12 L1055.5,555.03 L1056,556.4 L1056.5,558.55 L1057,558.07 L1057.5,560.06 L1058,560.83 L1058.5,559.56 L1059,561.95 L1059.5,562.83 L1060,564.87 L1060.5,565.57 L1061,567.62 L1061.5,569.42 L1062,570.24 L1062.5,570.72 L1063,570.85 L1063.5,575.5 L1064,576.34 L1064.5,578.35 L1065,579.02 L1065.5,579.69 L1066,578.18 L1066.5,579.96 L1067,579.8 L1067.5,578.72 L1068,579.08 L1068.5,579.9 L1069,579.77 L1069.5,578.9 L1070,579.12 L1070.5,577.4 L1071,573.93 L1071.5,572.19 L1072,569.09 L1072.5,565.03 L1073,562.32 L1073.5,563.1 L1074,560.88 L1074.5,562.58 L1075,563.35 L1075.5,564.31 L1076,565.82 L1076.5,566.41 L1077,568.4 L1077.5,569.49 L1078,570.38 L1078.5,571.06 L1079,571 L1079.5,573.32 L1080,573.8 L1080.5,571.73 L1081,571.6 L1081.5,571.57 L1082,569.94 L1082.5,569.68 L1083,567.32 L1083.5,566.15 L1084,566.66 L1084.5,564.22 L1085,561.67 L1085.5,561.71 L1086,562.46 L1086.5,558.27 L1087,553.36 L1087.5,547.08 L1088,541.25 L1088.5,536.72 L1089,531.08 L1089.5,524.16 L1090,518.17 L1090.5,519.98 L1091,520.26 L1091.5,520.01 L1092,507.77 L1092.5,514.72 L1093,520.8 L1093.5,521.86 L1094,523.74 L1094.5,529.35 L1095,537.18 L1095.5,539.79 L1096,547.46 L1096.5,549.21 L1097,549.46 L1097.5,549.98 L1098,548.9 L1098.5,549.75 L1099,549.52 L1099.5,550.87 L1100,550.33 L1100.5,554.78 L1101,558.38 L1101.5,560.99 L1102,564.65 L1102.5,569.21 L1103,566.08 L1103.5,568.87 L1104,567.74 L1104.5,567.23 L1105,567.63 L1105.5,566.54 L1106,567.11 L1106.5,565.85 L1107,573.13 L1107.5,577.23 L1108,579.71 L1108.5,585.44 L1109,591.09 L1109.5,595.27 L1110,597.94 L1110.5,599.22 L1111,599.45 L1111.5,600.55 L1112,599.39 L1112.5,599.78 L1113,599.25 L1113.5,600.72 L1114,600.02 L1114.5,601 L1115,601.68 L1115.5,601.35 L1116,601.69 L1116.5,597.67 L1117,601.27 L1117.5,601.26 L1118,600.65 L1118.5,600.48 L1119,601.33 L1119.5,600.73 L1120,601.38 L1120.5,603.14 L1121,603.72 L1121.5,606.17 L1122,607.12 L1122.5,606.76 L1123,609.89 L1123.5,612.31 L1124,612.02 L1124.5,612.3 L1125,614.9 L1125.5,616.34 L1126,616.95 L1126.5,617.19 L1127,617.25 L1127.5,615.02 L1128,617.74 L1128.5,616.4 L1129,617.77 L1129.5,615.08 L1130,617.85 L1130.5,617.9 L1131,616.59 L1131.5,616.29 L1132,618.78 L1132.5,619.17 L1133,618.68 L1133.5,619.32 L1134,620.39 L1134.5,619.98 L1135,620.77 L1135.5,619.81 L1136,622.23 L1136.5,622.45 L1137,622.38 L1137.5,622.91 L1138,622.66 L1138.5,623.63 L1139,623.44 L1139.5,623.84 L1140,622.89 L1140.5,620.73 L1141,618.93 L1141.5,615.9 L1142,614.02 L1142.5,610.63 L1143,608.16 L1143.5,605.94 L1144,603.68 L1144.5,601.05 L1145,599.67 L1145.5,598.8 L1146,599.52 L1146.5,598.58 L1147,600.3 L1147.5,599.84 L1148,599.24 L1148.5,599.06 L1149,600.67 L1149.5,600 L1150,600.59 L1150.5,601.46 L1151,603.19 L1151.5,605.66 L1152,604.82 L1152.5,607.68 L1153,609.48 L1153.5,611.84 L1154,613.35 L1154.5,615.13 L1155,616.62 L1155.5,617.18 L1156,620.2 L1156.5,621.24 L1157,622.57 L1157.5,623.63 L1158,621.92 L1158.5,623.6 L1159,624.03 L1159.5,623.55 L1160,620.12 L1160.5,621.75 L1161,623.31 L1161.5,621.38 L1162,620.2 L1162.5,622.04 L1163,619.84 L1163.5,621.51 L1164,621.69 L1164.5,620.32 L1165,621.91 L1165.5,617.82 L1166,612.84 L1166.5,608.63 L1167,604.49 L1167.5,599.62 L1168,595.47 L1168.5,593.05 L1169,585.3 L1169.5,585.32 L1170,580.92 L1170.5,579.95 L1171,580.33 L1171.5,579.09 L1172,578.94 L1172.5,577.72 L1173,575.44 L1173.5,576.12 L1174,574.45 L1174.5,575.57 L1175,573.31 L1175.5,574.02 L1176,572.17 L1176.5,575.33 L1177,579.34 L1177.5,581.19 L1178,586.06 L1178.5,590.55 L1179,593.59 L1179.5,598.2 L1180,601.19 L1180.5,600.36 L1181,600.28 L1181.5,600.12 L1182,599.37 L1182.5,598 L1183,597.65 L1183.5,598.6 L1184,598.01 L1184.5,594.1 L1185,594.84 L1185.5,595.19 L1186,595.38 L1186.5,594.63 L1187,596.23 L1187.5,597.13 L1188,597.47 L1188.5,595.35 L1189,596.84 L1189.5,599.05 L1190,599.11 L1190.5,600.99 L1191,604 L1191.5,604.96 L1192,607.65 L1192.5,608.56 L1193,609.86 L1193.5,607.28 L1194,607.55 L1194.5,609.7 L1195,609.2 L1195.5,610.41 L1196,610.26 L1196.5,608.39 L1197,609.41 L1197.5,608.47 L1198,610.72 L1198.5,611.32 L1199,610.44 L1199.5,609.7 L1200,610.93 L1200.5,609.96 L1201,609.9 L1201.5,607 L1202,607.6 L1202.5,607.37 L1203,606.99 L1203.5,604.67 L1204,605.58 L1204.5,603.83 L1205,603.84 L1205.5,601.52 L1206,600.91 L1206.5,600.58 L1207,596.92 L1207.5,599.09 L1208,600.06 L1208.5,599.74 L1209,597.98 L1209.5,602.1 L1210,600.73 L1210.5,602.38 L1211,603.41 L1211.5,604.08 L1212,603.24 L1212.5,604.07 L1213,604.91 L1213.5,606.71 L1214,607.1 L1214.5,609.32 L1215,611.24 L1215.5,612.74 L1216,615.39 L1216.5,615.83 L1217,619.11 L1217.5,621.32 L1218,623.76 L1218.5,624.86 L1219,625.3 L1219.5,626.23 L1220,626.56 L1220.5,628.5 L1221,625.81 L1221.5,628.14 L1222,629.37 L1222.5,628.7 L1223,629.92 L1223.5,630.18 L1224,628.51 L1224.5,623.37 L1225,617.36 L1225.5,610.86 L1226,605.79 L1226.5,600.11 L1227,591.03 L1227.5,588.24 L1228,588.05 L1228.5,588.08 L1229,587.76 L1229.5,585.29 L1230,585.72 L1230.5,584.35 L1231,584.05 L1231.5,584.89 L1232,583.9 L1232.5,582.77 L1233,583.43 L1233.5,582.84 L1234,584.42 L1234.5,582.55 L1235,584.28 L1235.5,584.55 L1236,583.93 L1236.5,584.18 L1237,583.82 L1237.5,581.8 L1238,584.46 L1238.5,583.29 L1239,584.25 L1239.5,582.24 L1240,583.3 L1240.5,589.5 L1241,593.33 L1241.5,596.38 L1242,603.56 L1242.5,607.89 L1243,611.13 L1243.5,617.58 L1244,619.45 L1244.5,616.3 L1245,617.46 L1245.5,617.47 L1246,615.52 L1246.5,617.29 L1247,618.4 L1247.5,618.2 L1248,615.94 L1248.5,616.42 L1249,615.98 L1249.5,616.49 L1250,616.38 L1250.5,612.04 L1251,610.45 L1251.5,605.99 L1252,604.53 L1252.5,601.67 L1253,598.27 L1253.5,594.44 L1254,592.41 L1254.5,589.19 L1255,585.86 L1255.5,584.24 L1256,580.48 L1256.5,580.29 L1257,581.21 L1257.5,580.38 L1258,582.49 L1258.5,584.31 L1259,583.66 L1259.5,585.18 L1260,583.88 L1260.5,588.15 L1261,588.22 L1261.5,587.74 L1262,585.98 L1262.5,582.4 L1263,584.72 L1263.5,583.18 L1264,581.68 L1264.5,580.7 L1265,578.27 L1265.5,576.75 L1266,573.76 L1266.5,570.65 L1267,567.69 L1267.5,564.55 L1268,560.1 L1268.5,557.96 L1269,556.68 L1269.5,558.64 L1270,560.1 L1270.5,559.77 L1271,560.69 L1271.5,563.02 L1272,566.52 L1272.5,567.05 L1273,568.93 L1273.5,567.14 L1274,571.84 L1274.5,575.49 L1275,577.52 L1275.5,579.47 L1276,582.63 L1276.5,585.01 L1277,588.65 L1277.5,590.12 L1278,586.71 L1278.5,582.84 L1279,577.08 L1279.5,575.54 L1280,570.58 L1280.5,574.46 L1281,575.64 L1281.5,581.08 L1282,584.72 L1282.5,588.2 L1283,590.51 L1283.5,594.47 L1284,597.33 L1284.5,600.49 L1285,604.51 L1285.5,600.5 L1286,597.97 L1286.5,593.57 L1287,592.59 L1287.5,586.49 L1288,584.52 L1288.5,583.09 L1289,578.82 L1289.5,575.55 L1290,573.89 L1290.5,575.43 L1291,578.26 L1291.5,581.32 L1292,583.18 L1292.5,584.34 L1293,588.59 L1293.5,591.81 L1294,594.31 L1294.5,597.17 L1295,598.51 L1295.5,598.87 L1296,599.45 L1296.5,598.77 L1297,601.38 L1297.5,600.92 L1298,602.08 L1298.5,600.74 L1299,602.78 L1299.5,603.57 L1300,600.81 L1300.5,602.08 L1301,604.46 L1301.5,603.49 L1302,603.05 L1302.5,602.03 L1303,604.08 L1303.5,604.65 L1304,605.09 L1304.5,604.64 L1305,604.31 L1305.5,603.28 L1306,605.46 L1306.5,604.91 L1307,604.12 L1307.5,605.05 L1308,603.85 L1308.5,602.04 L1309,598.49 L1309.5,600.05 L1310,599.51 L1310.5,598.61 L1311,597.38 L1311.5,594.89 L1312,595.33 L1312.5,594.51 L1313,593.05 L1313.5,592.48 L1314,589.29 L1314.5,588.27 L1315,589.55 L1315.5,586.47 L1316,588.16 L1316.5,586.4 L1317,584.69 L1317.5,585.15 L1318,585.11 L1318.5,583.75 L1319,582.5 L1319.5,582.64 L1320,581.49 L1320.5,581.17 L1321,584.61 L1321.5,586.76 L1322,587.13 L1322.5,590.6 L1323,591.67 L1323.5,594.4 L1324,596.09 L1324.5,596.83 L1325,599.19 L1325.5,599 L1326,598.23 L1326.5,595.63 L1327,595.39 L1327.5,595.99 L1328,593.19 L1328.5,594.04 L1329,592.41 L1329.5,591.52 L1330,589.07 L1330.5,590.16 L1331,589.04 L1331.5,591.33 L1332,590.83 L1332.5,589.82 L1333,590.29 L1333.5,587.83 L1334,588.82 L1334.5,588.33 L1335,588.95 L1335.5,585.28 L1336,584.49 L1336.5,585.19 L1337,583.66 L1337.5,579.97 L1338,580.19 L1338.5,579.01 L1339,577.21 L1339.5,575.72 L1340,573.87 L1340.5,574.47 L1341,578.49 L1341.5,579.38 L1342,583.05 L1342.5,585.56 L1343,588.21 L1343.5,590.24 L1344,588.32 L1344.5,586.28 L1345,583.12 L1345.5,577.59 L1346,549.78 L1346.5,533.76 L1347,533.17 L1347.5,535.53 L1348,535.29 L1348.5,534.93 L1349,534.42 L1349.5,533.9 L1350,543.59 L1350.5,553.07 L1351,562.16 L1351.5,566.41 L1352,570.62 L1352.5,573.25 L1353,575.51 L1353.5,576.77 L1354,581.63 L1354.5,584.19 L1355,586.11 L1355.5,586.56 L1356,588.91 L1356.5,588.93 L1357,591.07 L1357.5,591.12 L1358,592.5 L1358.5,594.64 L1359,597.09 L1359.5,598.42 L1360,598.32 L1360.5,597.39 L1361,596.07 L1361.5,593.7 L1362,593.58 L1362.5,590.8 L1363,590 L1363.5,587.56 L1364,584.85 L1364.5,583.96 L1365,583.62 L1365.5,580.82 L1366,579.72 L1366.5,576.88 L1367,578.79 L1367.5,578.69 L1368,578.18 L1368.5,577.34 L1369,577.06 L1369.5,577.28 L1370,576.67 L1370.5,574.33 L1371,572.76 L1371.5,570.45 L1372,568.93 L1372.5,570.11 L1373,571.66 L1373.5,572.08 L1374,575.58 L1374.5,576.25 L1375,578.38 L1375.5,583.98 L1376,590.57 L1376.5,595.59 L1377,600.06 L1377.5,603.54 L1378,608.42 L1378.5,610.89 L1379,611.06 L1379.5,612.47 L1380,610.71 L1380.5,612.38 L1381,615.63 L1381.5,622.85 L1382,632.6 L1382.5,641.41 L1383,640.06 L1383.5,643.91 L1384,645.06 L1384.5,646.1 L1385,647.27 L1385.5,649.25 L1386,648.69 L1386.5,646.96 L1387,645.57 L1387.5,644.98 L1388,642.72 L1388.5,642.51 L1389,641.43 L1389.5,639.96 L1390,637.69 L1390.5,635.12 L1391,635.45 L1391.5,637.82 L1392,636.31 L1392.5,639.71 L1393,640.13 L1393.5,640.72 L1394,641.2 L1394.5,642.63 L1395,643.86 L1395.5,647.31 L1396,647.37 L1396.5,650.4 L1397,649.4 L1397.5,649.55 L1398,645.6 L1398.5,645.03 L1399,642.74 L1399.5,640.22 L1400,636.45 L1400.5,630.71 L1401,628.83 L1401.5,624.71 L1402,620.91 L1402.5,616.53 L1403,615.38 L1403.5,615.86 L1404,618.19 L1404.5,618.79 L1405,616.69 L1405.5,618.6 L1406,617.24 L1406.5,615.21 L1407,616.12 L1407.5,614.91 L1408,612.87 L1408.5,610.18 L1409,613.2 L1409.5,613.94 L1410,616.92 L1410.5,619.97 L1411,622.17 L1411.5,620.24 L1412,620.54 L1412.5,617.12 L1413,618.32 L1413.5,617.76 L1414,619.69 L1414.5,618.87 L1415,622.09 L1415.5,622.78 L1416,624.53 L1416.5,623.77 L1417,624.65 L1417.5,623.24 L1418,621.32 L1418.5,619 L1419,617.54 L1419.5,616.14 L1420,617.41 L1420.5,617.26 L1421,618.41 L1421.5,618.56 L1422,615.93 L1422.5,618.01 L1423,620.01 L1423.5,621.34 L1424,622.72 L1424.5,623.5 L1425,622.67 L1425.5,625.76 L1426,625.41 L1426.5,627.14 L1427,628.06 L1427.5,630.13 L1428,631.85 L1428.5,631.72 L1429,631.65 L1429.5,634.4 L1430,633.47 L1430.5,632.6 L1431,634.11 L1431.5,634.42 L1432,636.8 L1432.5,636.69 L1433,634.49 L1433.5,640.61 L1434,642.07 L1434.5,643.04 L1435,644.39 L1435.5,644.54 L1436,646.97 L1436.5,648.23 L1437,647.37 L1437.5,651.26 L1438,651.7 L1438.5,651.66 L1439,652.84 L1439.5,655.64 L1440,655.87 L1440.5,656.36 L1441,655.86 L1441.5,658.89 L1442,659.57 L1442.5,659.43 L1443,660.07 L1443.5,661.43 L1444,661.73 L1444.5,660.96 L1445,665.22 L1445.5,666.47 L1446,667.42 L1446.5,670.57 L1447,672.32 L1447.5,671.73 L1448,675.24 L1448.5,676.6 L1449,676.36 L1449.5,675.14 L1450,674.23 L1450.5,676.35 L1451,674.86 L1451.5,675.22 L1452,676.67 L1452.5,674.94 L1453,673.48 L1453.5,672.11 L1454,670.11 L1454.5,667.21 L1455,667.86 L1455.5,666.38 L1456,663.74 L1456.5,668.91 L1457,668.37 L1457.5,673.21 L1458,674.49 L1458.5,675.56 L1459,678.85 L1459.5,681.53 L1460,681.19 L1460.5,681.31 L1461,681.98 L1461.5,681.78 L1462,680.93 L1462.5,680.07 L1463,680.98 L1463.5,679.95 L1464,679.13 L1464.5,679.36 L1465,678.25 L1465.5,676.74 L1466,676.06 L1466.5,672.43 L1467,674.12 L1467.5,674.15 L1468,674.6 L1468.5,675.52 L1469,676.91 L1469.5,676.04 L1470,677.83 L1470.5,673.43 L1471,668.51 L1471.5,665.5 L1472,661.15 L1472.5,656.11 L1473,658.75 L1473.5,658.12 L1474,660.71 L1474.5,661.72 L1475,664.38 L1475.5,665.02 L1476,664.6 L1476.5,661.53 L1477,657.09 L1477.5,653.26 L1478,651.34 L1478.5,648.15 L1479,645.8 L1479.5,643.11 L1480,641.04 L1480.5,634.71 L1481,635.09 L1481.5,631.97 L1482,631.9 L1482.5,632.38 L1483,632.56 L1483.5,630.56 L1484,634.52 L1484,657.68 L1483.5,658.27 L1483,660.76 L1482.5,661.82 L1482,664.38 L1481.5,666.88 L1481,670.02 L1480.5,672.87 L1480,676.31 L1479.5,675.12 L1479,675.57 L1478.5,678.76 L1478,675.12 L1477.5,677.01 L1477,676.48 L1476.5,676.05 L1476,680.42 L1475.5,683.08 L1475,685.82 L1474.5,687.59 L1474,689.62 L1473.5,690.92 L1473,689.03 L1472.5,686.63 L1472,688.16 L1471.5,686.37 L1471,685.21 L1470.5,685.4 L1470,684.21 L1469.5,685.67 L1469,684.73 L1468.5,686.34 L1468,689.78 L1467.5,691.37 L1467,693.93 L1466.5,697.49 L1466,698.36 L1465.5,698.39 L1465,700.78 L1464.5,699.2 L1464,700.98 L1463.5,701.05 L1463,699.07 L1462.5,698.27 L1462,698.94 L1461.5,699.47 L1461,699.87 L1460.5,703.15 L1460,701.1 L1459.5,702.99 L1459,703.06 L1458.5,699.18 L1458,696.79 L1457.5,694.66 L1457,693.5 L1456.5,691.46 L1456,689.64 L1455.5,685.3 L1455,683.25 L1454.5,684.94 L1454,686.45 L1453.5,689 L1453,690.54 L1452.5,693.57 L1452,693.81 L1451.5,695.33 L1451,697.76 L1450.5,694.6 L1450,692.12 L1449.5,690.66 L1449,690.61 L1448.5,689.22 L1448,685.95 L1447.5,684.67 L1447,683.2 L1446.5,682.78 L1446,680.9 L1445.5,678.28 L1445,675.49 L1444.5,675.13 L1444,675.75 L1443.5,672.75 L1443,672.66 L1442.5,672.21 L1442,670.83 L1441.5,671.42 L1441,670.88 L1440.5,670.31 L1440,671.35 L1439.5,671.62 L1439,670.2 L1438.5,670.61 L1438,670.32 L1437.5,670.14 L1437,672.92 L1436.5,669.26 L1436,667.66 L1435.5,664.96 L1435,662.51 L1434.5,661.13 L1434,659.35 L1433.5,653.61 L1433,650.54 L1432.5,648.85 L1432,648 L1431.5,644.52 L1431,643.55 L1430.5,644.43 L1430,641.89 L1429.5,642.06 L1429,641.43 L1428.5,640.04 L1428,638.67 L1427.5,639.59 L1427,637.93 L1426.5,638.7 L1426,637.96 L1425.5,635.12 L1425,634.93 L1424.5,633.6 L1424,632.36 L1423.5,633.59 L1423,631.58 L1422.5,630.83 L1422,628.61 L1421.5,629.05 L1421,631.98 L1420.5,630.23 L1420,631.16 L1419.5,632.5 L1419,632.48 L1418.5,633.7 L1418,633.51 L1417.5,634.92 L1417,636.25 L1416.5,636.8 L1416,639.4 L1415.5,640.74 L1415,644.41 L1414.5,647.15 L1414,647.86 L1413.5,651.55 L1413,652 L1412.5,651.37 L1412,647.35 L1411.5,648.03 L1411,645.23 L1410.5,644.88 L1410,643.54 L1409.5,646.31 L1409,645.87 L1408.5,646.86 L1408,648.46 L1407.5,649.42 L1407,651 L1406.5,651.28 L1406,656.43 L1405.5,655.11 L1405,655.47 L1404.5,657.74 L1404,660.26 L1403.5,662.44 L1403,665.81 L1402.5,665.69 L1402,667.3 L1401.5,665.63 L1401,665.92 L1400.5,664.74 L1400,665.2 L1399.5,665.46 L1399,665.4 L1398.5,665.65 L1398,662.76 L1397.5,661.8 L1397,663.66 L1396.5,660.03 L1396,658.5 L1395.5,659.6 L1395,659.04 L1394.5,660.74 L1394,660.88 L1393.5,661.16 L1393,661.54 L1392.5,663.05 L1392,662.22 L1391.5,662.6 L1391,664.24 L1390.5,662.21 L1390,661.66 L1389.5,662.52 L1389,661.44 L1388.5,661.68 L1388,661.92 L1387.5,665.36 L1387,667.13 L1386.5,670.28 L1386,676.03 L1385.5,678.26 L1385,678.07 L1384.5,672.83 L1384,668.29 L1383.5,663.13 L1383,656.1 L1382.5,652 L1382,644.17 L1381.5,638.06 L1381,632.3 L1380.5,626.38 L1380,620.47 L1379.5,620.32 L1379,622.38 L1378.5,619.27 L1378,620.84 L1377.5,618.73 L1377,619.71 L1376.5,617.13 L1376,613.06 L1375.5,610.55 L1375,606.22 L1374.5,603.83 L1374,598.59 L1373.5,595.22 L1373,593.93 L1372.5,596.22 L1372,599.43 L1371.5,598.23 L1371,599.31 L1370.5,603.17 L1370,602.24 L1369.5,603.63 L1369,603.68 L1368.5,605.05 L1368,604.72 L1367.5,603.9 L1367,605.05 L1366.5,605.71 L1366,606.02 L1365.5,605.35 L1365,606.16 L1364.5,605.69 L1364,607.24 L1363.5,607.23 L1363,607.26 L1362.5,608.16 L1362,607.83 L1361.5,609.2 L1361,610.72 L1360.5,610.81 L1360,610.12 L1359.5,610.92 L1359,611.22 L1358.5,612.08 L1358,612.08 L1357.5,612.15 L1357,611.42 L1356.5,610.05 L1356,611.63 L1355.5,609.33 L1355,608.88 L1354.5,606.7 L1354,606.46 L1353.5,605.16 L1353,604.12 L1352.5,603.6 L1352,602.97 L1351.5,602.37 L1351,602.64 L1350.5,604.44 L1350,603.37 L1349.5,602.87 L1349,604.67 L1348.5,602.68 L1348,603.35 L1347.5,602.23 L1347,603.46 L1346.5,603.53 L1346,603.51 L1345.5,603.86 L1345,606.79 L1344.5,605.72 L1344,607.4 L1343.5,608.95 L1343,608.78 L1342.5,610.68 L1342,611.02 L1341.5,613.58 L1341,612.6 L1340.5,613.22 L1340,612.72 L1339.5,611.15 L1339,611.93 L1338.5,609.81 L1338,609.15 L1337.5,610.11 L1337,608.47 L1336.5,611.91 L1336,608.28 L1335.5,608.9 L1335,609.23 L1334.5,606.44 L1334,607.81 L1333.5,606.82 L1333,607.89 L1332.5,609.54 L1332,609.44 L1331.5,611.52 L1331,612.63 L1330.5,612.56 L1330,614.63 L1329.5,616.49 L1329,618.22 L1328.5,617.23 L1328,618.93 L1327.5,619.58 L1327,622.23 L1326.5,622.87 L1326,624.01 L1325.5,624.33 L1325,621.43 L1324.5,622.06 L1324,619.95 L1323.5,619.55 L1323,619.51 L1322.5,619.37 L1322,619.42 L1321.5,617.53 L1321,616.58 L1320.5,616.42 L1320,617.37 L1319.5,616.2 L1319,616.64 L1318.5,614.86 L1318,616.07 L1317.5,613.52 L1317,613.98 L1316.5,612.84 L1316,612.79 L1315.5,612.6 L1315,613.9 L1314.5,611.79 L1314,612.57 L1313.5,610.88 L1313,610.98 L1312.5,610.45 L1312,612.46 L1311.5,613.55 L1311,613.45 L1310.5,612.61 L1310,613.87 L1309.5,613.89 L1309,615.49 L1308.5,615.9 L1308,615.52 L1307.5,617.34 L1307,617.45 L1306.5,617.87 L1306,617.58 L1305.5,619.01 L1305,621.51 L1304.5,620.23 L1304,622.93 L1303.5,620.83 L1303,622.52 L1302.5,624.24 L1302,623 L1301.5,623.91 L1301,624.92 L1300.5,626.49 L1300,626.34 L1299.5,631.18 L1299,628.51 L1298.5,630.11 L1298,630.01 L1297.5,630.99 L1297,630.13 L1296.5,631.71 L1296,629.83 L1295.5,630.3 L1295,628.65 L1294.5,631.67 L1294,629.54 L1293.5,629.21 L1293,629.04 L1292.5,628.79 L1292,627.55 L1291.5,625.95 L1291,625.61 L1290.5,625.93 L1290,624.26 L1289.5,624.27 L1289,623.71 L1288.5,623.78 L1288,624.38 L1287.5,622.07 L1287,620.93 L1286.5,620.68 L1286,619.87 L1285.5,619.95 L1285,618.55 L1284.5,619.16 L1284,618.2 L1283.5,618.03 L1283,617.89 L1282.5,619.47 L1282,618.86 L1281.5,619.63 L1281,619.96 L1280.5,619.65 L1280,620.4 L1279.5,620.44 L1279,621.24 L1278.5,622.86 L1278,621.81 L1277.5,625.01 L1277,621.69 L1276.5,619.36 L1276,618.01 L1275.5,616 L1275,615.39 L1274.5,613.04 L1274,611.62 L1273.5,609.59 L1273,608.44 L1272.5,608.31 L1272,603.81 L1271.5,603.62 L1271,601.01 L1270.5,599.35 L1270,597.92 L1269.5,599.1 L1269,599.51 L1268.5,600.69 L1268,603.16 L1267.5,602.03 L1267,603.63 L1266.5,605.68 L1266,605.12 L1265.5,606.47 L1265,608.86 L1264.5,607.02 L1264,607.38 L1263.5,607.22 L1263,607.61 L1262.5,608.44 L1262,607.88 L1261.5,607.72 L1261,608 L1260.5,607.32 L1260,611.17 L1259.5,607.44 L1259,608.74 L1258.5,607.89 L1258,607.35 L1257.5,608.03 L1257,609.91 L1256.5,609.96 L1256,611.36 L1255.5,613.97 L1255,614.44 L1254.5,615.84 L1254,617.52 L1253.5,618.06 L1253,618.43 L1252.5,622.6 L1252,621.68 L1251.5,621.48 L1251,625.09 L1250.5,625.52 L1250,627.27 L1249.5,627.58 L1249,629.46 L1248.5,630.43 L1248,630.34 L1247.5,631.51 L1247,632.93 L1246.5,635.69 L1246,635.23 L1245.5,635.93 L1245,640.68 L1244.5,636.87 L1244,637.05 L1243.5,635.73 L1243,636.34 L1242.5,636 L1242,634.5 L1241.5,635.37 L1241,632.56 L1240.5,631.97 L1240,632.91 L1239.5,631.4 L1239,631.85 L1238.5,631.65 L1238,630.59 L1237.5,629.07 L1237,630.38 L1236.5,629.09 L1236,628.91 L1235.5,627.54 L1235,628.13 L1234.5,627.42 L1234,626.3 L1233.5,626.25 L1233,629.25 L1232.5,625.17 L1232,627.28 L1231.5,628.06 L1231,629.76 L1230.5,630.14 L1230,632.66 L1229.5,633.76 L1229,634.28 L1228.5,635.07 L1228,637.07 L1227.5,638.51 L1227,638.66 L1226.5,640.8 L1226,639.97 L1225.5,642.68 L1225,639.7 L1224.5,640.57 L1224,637.28 L1223.5,636.7 L1223,636.38 L1222.5,635.72 L1222,634.93 L1221.5,634.38 L1221,637.13 L1220.5,633.93 L1220,633.09 L1219.5,631.72 L1219,631.95 L1218.5,631.57 L1218,631.58 L1217.5,629.59 L1217,628.98 L1216.5,628.69 L1216,629.46 L1215.5,626.6 L1215,626.46 L1214.5,624.1 L1214,623.39 L1213.5,622.08 L1213,623.35 L1212.5,620.47 L1212,620.04 L1211.5,618.22 L1211,619.07 L1210.5,618.95 L1210,615.47 L1209.5,614.45 L1209,614.08 L1208.5,612.4 L1208,611.75 L1207.5,612 L1207,615.04 L1206.5,613.13 L1206,614.49 L1205.5,612.96 L1205,615.08 L1204.5,614.2 L1204,614.75 L1203.5,615.46 L1203,616.22 L1202.5,617.33 L1202,619.72 L1201.5,620.74 L1201,620.54 L1200.5,619.52 L1200,620.54 L1199.5,623.02 L1199,620.35 L1198.5,619.56 L1198,622.02 L1197.5,620.54 L1197,619.93 L1196.5,618.91 L1196,620.78 L1195.5,618.31 L1195,617.5 L1194.5,616.79 L1194,618.98 L1193.5,616.3 L1193,618.6 L1192.5,617.16 L1192,615.86 L1191.5,617.22 L1191,614.43 L1190.5,614.61 L1190,614.07 L1189.5,616.69 L1189,621.5 L1188.5,622.56 L1188,625.69 L1187.5,628.81 L1187,632.79 L1186.5,635.27 L1186,638.65 L1185.5,641.64 L1185,644.21 L1184.5,643 L1184,639.7 L1183.5,638.04 L1183,635.16 L1182.5,632.95 L1182,631.61 L1181.5,630.15 L1181,626.42 L1180.5,623.99 L1180,623.51 L1179.5,620.3 L1179,618.83 L1178.5,616.99 L1178,613.67 L1177.5,610.64 L1177,612.32 L1176.5,612.88 L1176,613.59 L1175.5,614.94 L1175,615.35 L1174.5,617.61 L1174,618.4 L1173.5,618.19 L1173,619.88 L1172.5,621.76 L1172,622.59 L1171.5,621.94 L1171,624.27 L1170.5,623.94 L1170,628.12 L1169.5,625.92 L1169,627.73 L1168.5,627.4 L1168,629.5 L1167.5,629.52 L1167,629.36 L1166.5,630.62 L1166,632.68 L1165.5,631.96 L1165,633.08 L1164.5,633.6 L1164,634.32 L1163.5,635.82 L1163,636.5 L1162.5,637.28 L1162,638.89 L1161.5,638.61 L1161,638.91 L1160.5,639.79 L1160,642.84 L1159.5,640.75 L1159,639.31 L1158.5,636.95 L1158,634.35 L1157.5,632.89 L1157,632.86 L1156.5,631.81 L1156,628.18 L1155.5,626.7 L1155,625.15 L1154.5,624.78 L1154,624.17 L1153.5,620.63 L1153,621.08 L1152.5,619.9 L1152,617.35 L1151.5,614.85 L1151,613.26 L1150.5,612.63 L1150,611.21 L1149.5,612.62 L1149,612.16 L1148.5,614.03 L1148,615.55 L1147.5,615.51 L1147,617.57 L1146.5,616.97 L1146,619.16 L1145.5,619.71 L1145,620.6 L1144.5,621.46 L1144,623.37 L1143.5,623.51 L1143,625 L1142.5,628.41 L1142,630.55 L1141.5,630.67 L1141,633.71 L1140.5,634.75 L1140,637.33 L1139.5,640.21 L1139,641.66 L1138.5,642.96 L1138,643.51 L1137.5,646.62 L1137,645.6 L1136.5,646.41 L1136,647.61 L1135.5,647.83 L1135,647.65 L1134.5,648.27 L1134,648.38 L1133.5,649.99 L1133,649.59 L1132.5,650.55 L1132,651.19 L1131.5,651.57 L1131,652.64 L1130.5,653.41 L1130,652.19 L1129.5,649.9 L1129,647.08 L1128.5,645.91 L1128,642.88 L1127.5,641.51 L1127,637.77 L1126.5,635.61 L1126,632.79 L1125.5,630.36 L1125,627.05 L1124.5,628.27 L1124,626.86 L1123.5,625.42 L1123,624.8 L1122.5,623.72 L1122,624.02 L1121.5,622.33 L1121,624.13 L1120.5,623.13 L1120,620.55 L1119.5,621.54 L1119,621.54 L1118.5,621.94 L1118,624.08 L1117.5,624.52 L1117,624.6 L1116.5,624.13 L1116,623.67 L1115.5,626.26 L1115,625.78 L1114.5,627.01 L1114,626.92 L1113.5,624.7 L1113,623.87 L1112.5,621.32 L1112,618.8 L1111.5,617.34 L1111,614.03 L1110.5,612.82 L1110,610.37 L1109.5,608.04 L1109,608.87 L1108.5,605.03 L1108,602.66 L1107.5,601.07 L1107,600.12 L1106.5,600.31 L1106,601.79 L1105.5,599.99 L1105,599.82 L1104.5,599.42 L1104,598.61 L1103.5,598.61 L1103,599.4 L1102.5,598.15 L1102,598.62 L1101.5,599.61 L1101,597.18 L1100.5,596.18 L1100,592.61 L1099.5,589.93 L1099,588.39 L1098.5,586.16 L1098,585.45 L1097.5,582.38 L1097,579.83 L1096.5,580.41 L1096,575.37 L1095.5,575.4 L1095,571.84 L1094.5,574.08 L1094,573.86 L1093.5,574.18 L1093,575.17 L1092.5,576.62 L1092,576.46 L1091.5,578.98 L1091,579.13 L1090.5,580.13 L1090,581.32 L1089.5,583.19 L1089,585.37 L1088.5,588.9 L1088,588.08 L1087.5,590.89 L1087,592.82 L1086.5,596.31 L1086,597.33 L1085.5,599.14 L1085,601.67 L1084.5,601.79 L1084,602.05 L1083.5,602.34 L1083,606.05 L1082.5,604.52 L1082,605.74 L1081.5,606.39 L1081,605.74 L1080.5,608.39 L1080,607.43 L1079.5,606.74 L1079,608.93 L1078.5,606.67 L1078,606.54 L1077.5,605.79 L1077,606.26 L1076.5,606.32 L1076,604.42 L1075.5,602.94 L1075,602.77 L1074.5,600.73 L1074,598.55 L1073.5,597.52 L1073,596.37 L1072.5,597.68 L1072,593.13 L1071.5,593.06 L1071,591.24 L1070.5,589.18 L1070,588.04 L1069.5,588.34 L1069,588.19 L1068.5,588.83 L1068,590.97 L1067.5,590.73 L1067,590.77 L1066.5,590.83 L1066,591.46 L1065.5,592.57 L1065,593.94 L1064.5,593.31 L1064,594.84 L1063.5,595.35 L1063,594.96 L1062.5,595.21 L1062,595.19 L1061.5,593.14 L1061,593.82 L1060.5,591 L1060,591.81 L1059.5,590.3 L1059,588.43 L1058.5,586.39 L1058,585.13 L1057.5,586.13 L1057,583.73 L1056.5,581.55 L1056,580.17 L1055.5,579.66 L1055,578.32 L1054.5,578.28 L1054,577.11 L1053.5,577.11 L1053,577.23 L1052.5,577.38 L1052,577.23 L1051.5,578.39 L1051,578.95 L1050.5,578.36 L1050,580.79 L1049.5,579.71 L1049,580.5 L1048.5,581.63 L1048,583.14 L1047.5,583.68 L1047,582.7 L1046.5,582.03 L1046,582.4 L1045.5,582.18 L1045,581.72 L1044.5,579.07 L1044,577.96 L1043.5,576.85 L1043,577.34 L1042.5,575.34 L1042,575.44 L1041.5,573.9 L1041,572.37 L1040.5,572.84 L1040,571.2 L1039.5,571.92 L1039,572.49 L1038.5,572.27 L1038,569.14 L1037.5,569.63 L1037,567.41 L1036.5,567.94 L1036,566.74 L1035.5,565.55 L1035,566.91 L1034.5,566.85 L1034,566.92 L1033.5,569.76 L1033,569.34 L1032.5,571.36 L1032,571.12 L1031.5,574.43 L1031,575.04 L1030.5,575.83 L1030,575.04 L1029.5,577.85 L1029,577.84 L1028.5,578.15 L1028,579.72 L1027.5,579.91 L1027,580.5 L1026.5,581.92 L1026,581.06 L1025.5,578.98 L1025,579.01 L1024.5,578.36 L1024,578.19 L1023.5,579.11 L1023,579.78 L1022.5,579.23 L1022,578.76 L1021.5,578.15 L1021,577.56 L1020.5,577.23 L1020,578.13 L1019.5,580.6 L1019,585.58 L1018.5,587.85 L1018,592.94 L1017.5,596.27 L1017,596.12 L1016.5,596.93 L1016,595.6 L1015.5,595.23 L1015,595.23 L1014.5,595.38 L1014,596.64 L1013.5,596.28 L1013,597.22 L1012.5,596.68 L1012,593.84 L1011.5,590.31 L1011,588.17 L1010.5,587.36 L1010,583.28 L1009.5,581.47 L1009,579.13 L1008.5,575.33 L1008,572.93 L1007.5,571.96 L1007,569.7 L1006.5,569.97 L1006,566.12 L1005.5,566.87 L1005,563.4 L1004.5,561.45 L1004,561.22 L1003.5,558.44 L1003,559.13 L1002.5,558.17 L1002,556.89 L1001.5,553.77 L1001,551.84 L1000.5,551.29 L1000,548.55 L999.5,549.39 L999,552.63 L998.5,551.4 L998,552.68 L997.5,553.72 L997,557.17 L996.5,558 L996,558.73 L995.5,556.88 L995,558.21 L994.5,556.63 L994,558.31 L993.5,559.32 L993,560.72 L992.5,559.49 L992,558.73 L991.5,559.53 L991,559.51 L990.5,559.97 L990,560.81 L989.5,560.58 L989,561.93 L988.5,562.17 L988,562.85 L987.5,562.77 L987,562.88 L986.5,563.06 L986,563.84 L985.5,564.08 L985,561.51 L984.5,562.86 L984,563.72 L983.5,561.79 L983,562.64 L982.5,565.19 L982,561.92 L981.5,562.25 L981,561.7 L980.5,560.78 L980,564.16 L979.5,561.16 L979,560.75 L978.5,564.17 L978,560.23 L977.5,561.13 L977,561.92 L976.5,565.43 L976,567.09 L975.5,566.31 L975,568.96 L974.5,569.14 L974,570.65 L973.5,573.3 L973,574.05 L972.5,577.23 L972,575.62 L971.5,577.55 L971,577.15 L970.5,579.31 L970,577.71 L969.5,580.02 L969,582.57 L968.5,581.3 L968,580.15 L967.5,581.86 L967,581.58 L966.5,576.21 L966,574.39 L965.5,573.56 L965,569.05 L964.5,565.76 L964,564.96 L963.5,563.25 L963,562.83 L962.5,562.41 L962,563.87 L961.5,563.87 L961,564.9 L960.5,563.14 L960,562.06 L959.5,564.09 L959,565.74 L958.5,562.46 L958,562.84 L957.5,564.89 L957,561.98 L956.5,563.31 L956,562.41 L955.5,561.83 L955,562.13 L954.5,561.82 L954,563.57 L953.5,563.15 L953,561.02 L952.5,562.1 L952,559.55 L951.5,559.51 L951,558.27 L950.5,557.77 L950,556.58 L949.5,556.06 L949,556.44 L948.5,556.75 L948,556.45 L947.5,554.5 L947,554.11 L946.5,554.38 L946,552.24 L945.5,551.55 L945,549.86 L944.5,550.59 L944,548.16 L943.5,547.55 L943,546.89 L942.5,546.11 L942,543.97 L941.5,544.85 L941,543.95 L940.5,541.42 L940,540.93 L939.5,540.74 L939,546.36 L938.5,542.49 L938,543.38 L937.5,542.51 L937,543.65 L936.5,544.28 L936,544.54 L935.5,545.33 L935,545.45 L934.5,542.72 L934,539.44 L933.5,538 L933,533.54 L932.5,530.85 L932,527.24 L931.5,525.96 L931,521.22 L930.5,518.25 L930,515.62 L929.5,513.3 L929,509.58 L928.5,506.53 L928,503.47 L927.5,501.86 L927,500.43 L926.5,499.82 L926,498.96 L925.5,499.08 L925,497.91 L924.5,498.58 L924,497.66 L923.5,497.91 L923,495.61 L922.5,497.72 L922,499.35 L921.5,503.9 L921,507.42 L920.5,511.18 L920,515.15 L919.5,518.39 L919,521.61 L918.5,522.88 L918,524.75 L917.5,528.62 L917,528 L916.5,529.17 L916,529.85 L915.5,530.76 L915,532.88 L914.5,533.61 L914,535.13 L913.5,535.23 L913,533.74 L912.5,531 L912,529.88 L911.5,526.9 L911,525.52 L910.5,524.9 L910,522.32 L909.5,521.64 L909,521.49 L908.5,518.71 L908,520.58 L907.5,520.22 L907,520.9 L906.5,523.04 L906,522.94 L905.5,522.47 L905,524.95 L904.5,525.4 L904,525.25 L903.5,524.28 L903,524.66 L902.5,523.42 L902,519.84 L901.5,519.46 L901,517.61 L900.5,517.45 L900,516.39 L899.5,513.39 L899,511.25 L898.5,512.6 L898,512.51 L897.5,514.13 L897,515.34 L896.5,517.08 L896,518.67 L895.5,520.95 L895,521.62 L894.5,523.34 L894,525.82 L893.5,524.15 L893,522.22 L892.5,520.24 L892,517.48 L891.5,513.77 L891,511.76 L890.5,509.13 L890,507.19 L889.5,503.73 L889,500.8 L888.5,498.23 L888,498.13 L887.5,493.25 L887,491.57 L886.5,488.61 L886,486.54 L885.5,483.62 L885,480.29 L884.5,480.23 L884,480.38 L883.5,479.76 L883,478.87 L882.5,478.72 L882,478.72 L881.5,479.86 L881,478.49 L880.5,478.41 L880,478.25 L879.5,478.03 L879,477.31 L878.5,476.8 L878,476.4 L877.5,475.95 L877,477.26 L876.5,476.42 L876,474.48 L875.5,472.89 L875,472.91 L874.5,473.9 L874,473.21 L873.5,472.13 L873,470.34 L872.5,470.83 L872,469.28 L871.5,469.39 L871,469.71 L870.5,469.26 L870,467.51 L869.5,467 L869,469.97 L868.5,466.52 L868,466.53 L867.5,466.49 L867,466.22 L866.5,466.82 L866,466.33 L865.5,465.9 L865,468.25 L864.5,467.19 L864,465.77 L863.5,465.8 L863,468.15 L862.5,468.25 L862,469.56 L861.5,468.72 L861,471.51 L860.5,472.61 L860,472.15 L859.5,471.89 L859,473.63 L858.5,473.75 L858,477.03 L857.5,476 L857,477.55 L856.5,481.05 L856,480.86 L855.5,483.35 L855,484.85 L854.5,487.6 L854,489.37 L853.5,488.73 L853,483.57 L852.5,481.8 L852,475.78 L851.5,472.19 L851,470.15 L850.5,466.12 L850,460.07 L849.5,457.18 L849,452.09 L848.5,451.38 L848,450.8 L847.5,451.24 L847,451.23 L846.5,451.19 L846,451.3 L845.5,454.45 L845,457.37 L844.5,457.58 L844,459.37 L843.5,462.48 L843,464.14 L842.5,467.35 L842,467.53 L841.5,470.57 L841,470.35 L840.5,470.69 L840,471.15 L839.5,473.26 L839,472.85 L838.5,475.61 L838,473.2 L837.5,473.23 L837,474.65 L836.5,476.04 L836,474.88 L835.5,475.01 L835,476.05 L834.5,484.48 L834,493.26 L833.5,500.45 L833,509.12 L832.5,518.23 L832,518 L831.5,518.09 L831,517.32 L830.5,519.36 L830,517.86 L829.5,517.2 L829,519.23 L828.5,517.87 L828,521.24 L827.5,520.07 L827,519.34 L826.5,517.74 L826,520.1 L825.5,517.78 L825,520.47 L824.5,519.86 L824,518.69 L823.5,520.9 L823,521.31 L822.5,520.06 L822,521.27 L821.5,522.73 L821,520.42 L820.5,521 L820,522.75 L819.5,521.68 L819,523.33 L818.5,522.94 L818,524.8 L817.5,526.56 L817,524.71 L816.5,524.01 L816,525.97 L815.5,526.15 L815,527.91 L814.5,529.93 L814,531 L813.5,532.25 L813,534.06 L812.5,537.09 L812,537.06 L811.5,539.65 L811,542.38 L810.5,543.43 L810,545.81 L809.5,546.09 L809,546.4 L808.5,547.03 L808,547.78 L807.5,547.31 L807,549.71 L806.5,549.66 L806,548.11 L805.5,550.48 L805,550.9 L804.5,551.66 L804,554.61 L803.5,556.46 L803,556.04 L802.5,559.88 L802,559.02 L801.5,559.79 L801,561.06 L800.5,559.64 L800,558.28 L799.5,554.52 L799,552.61 L798.5,553.03 L798,549.66 L797.5,545.04 L797,545.75 L796.5,541.7 L796,540.01 L795.5,538.37 L795,535.05 L794.5,535.64 L794,533.76 L793.5,533.14 L793,534.87 L792.5,532.86 L792,530.42 L791.5,530.74 L791,528.9 L790.5,529.92 L790,527.3 L789.5,525.13 L789,522.64 L788.5,521.16 L788,518.7 L787.5,518.41 L787,514.43 L786.5,512.22 L786,511.36 L785.5,507.39 L785,507.55 L784.5,506.23 L784,505.67 L783.5,508.26 L783,507.18 L782.5,506.75 L782,506.51 L781.5,506.84 L781,508.35 L780.5,507.44 L780,509.78 L779.5,508.37 L779,509.34 L778.5,509.05 L778,509.13 L777.5,511.81 L777,510.13 L776.5,510.42 L776,510.76 L775.5,511.56 L775,511.81 L774.5,511.95 L774,512.56 L773.5,511.47 L773,511.29 L772.5,506.66 L772,505.01 L771.5,503.82 L771,499.9 L770.5,497.32 L770,495.9 L769.5,493.39 L769,491.66 L768.5,490.46 L768,487.02 L767.5,486.36 L767,484.35 L766.5,482.29 L766,479.49 L765.5,477.58 L765,475.99 L764.5,474.04 L764,471.35 L763.5,469.74 L763,468.43 L762.5,465.63 L762,467.57 L761.5,468.72 L761,470.57 L760.5,471.54 L760,472.3 L759.5,473.72 L759,473.67 L758.5,477.99 L758,477.24 L757.5,478.28 L757,478.33 L756.5,478.98 L756,477.98 L755.5,479.17 L755,479.42 L754.5,479.16 L754,480.21 L753.5,479.44 L753,479.92 L752.5,480.53 L752,481.84 L751.5,482.16 L751,482.44 L750.5,484.54 L750,483.35 L749.5,484.49 L749,487.24 L748.5,485.86 L748,488.38 L747.5,487.27 L747,490.38 L746.5,488.17 L746,491.59 L745.5,491.99 L745,491.29 L744.5,492.52 L744,491.71 L743.5,494.35 L743,493.3 L742.5,493.32 L742,493.77 L741.5,494.35 L741,494.04 L740.5,495.18 L740,496.72 L739.5,495.82 L739,496.28 L738.5,497.72 L738,497.2 L737.5,497.36 L737,499.29 L736.5,500.56 L736,500.5 L735.5,501.09 L735,502.34 L734.5,501.95 L734,504.19 L733.5,504.64 L733,504.22 L732.5,505.55 L732,506.17 L731.5,507.71 L731,506.76 L730.5,507.62 L730,505.2 L729.5,505.45 L729,504 L728.5,505.56 L728,501.83 L727.5,502.11 L727,501.12 L726.5,502.12 L726,501.17 L725.5,499.11 L725,497.17 L724.5,498.19 L724,498.63 L723.5,500.98 L723,499.5 L722.5,502.25 L722,500.14 L721.5,500.99 L721,503.34 L720.5,502.16 L720,503.28 L719.5,503.72 L719,502.5 L718.5,501.6 L718,501.33 L717.5,502.33 L717,502.68 L716.5,503.24 L716,500.95 L715.5,501.69 L715,500.11 L714.5,500.25 L714,500.94 L713.5,501.58 L713,501.13 L712.5,499.78 L712,498.48 L711.5,497.95 L711,497.79 L710.5,497.13 L710,498.82 L709.5,497.64 L709,497.98 L708.5,496.49 L708,498.4 L707.5,495.04 L707,496.21 L706.5,497.5 L706,500.86 L705.5,500.89 L705,503.03 L704.5,503.27 L704,504.28 L703.5,505.86 L703,507.42 L702.5,507.51 L702,508.67 L701.5,510.61 L701,510.58 L700.5,511.39 L700,511.36 L699.5,513.46 L699,513.56 L698.5,514.35 L698,512.63 L697.5,514.49 L697,514.59 L696.5,514.46 L696,514.99 L695.5,515.59 L695,515.69 L694.5,513.63 L694,513.68 L693.5,510.72 L693,511.17 L692.5,508.14 L692,506.94 L691.5,502.38 L691,501.74 L690.5,498.17 L690,497.53 L689.5,492.72 L689,490.86 L688.5,489.23 L688,486.09 L687.5,483.4 L687,485.51 L686.5,487.53 L686,488.48 L685.5,489.66 L685,489.68 L684.5,489.96 L684,492.33 L683.5,495.68 L683,495.09 L682.5,497.1 L682,498.06 L681.5,498.27 L681,499.47 L680.5,499.85 L680,502.64 L679.5,506.12 L679,503.51 L678.5,504.39 L678,503.51 L677.5,503 L677,502.21 L676.5,500.7 L676,500.37 L675.5,499.04 L675,498.78 L674.5,497.32 L674,496.45 L673.5,496.47 L673,495.9 L672.5,494.81 L672,493.82 L671.5,494.33 L671,492.22 L670.5,491.84 L670,489.31 L669.5,490.64 L669,489.92 L668.5,485.65 L668,485.38 L667.5,483.19 L667,483.24 L666.5,481.53 L666,479.66 L665.5,479.29 L665,477.74 L664.5,476.57 L664,475.38 L663.5,474.98 L663,474.37 L662.5,472.44 L662,472.14 L661.5,471.15 L661,471.72 L660.5,468.2 L660,472.04 L659.5,468.57 L659,469.89 L658.5,469.5 L658,471.11 L657.5,471.18 L657,473.26 L656.5,472.75 L656,474.04 L655.5,476.57 L655,476.98 L654.5,474.72 L654,473.94 L653.5,473.14 L653,471.25 L652.5,471.52 L652,471.73 L651.5,468.33 L651,467.5 L650.5,468.08 L650,465.9 L649.5,466.64 L649,463.27 L648.5,462.5 L648,464.33 L647.5,460.75 L647,462.34 L646.5,461.61 L646,462.36 L645.5,463.85 L645,465.12 L644.5,464.96 L644,468.47 L643.5,467.49 L643,469.13 L642.5,467.35 L642,471.54 L641.5,471.48 L641,476.91 L640.5,475.38 L640,477.2 L639.5,478.22 L639,480.77 L638.5,482.09 L638,480.02 L637.5,480.89 L637,479.03 L636.5,478.82 L636,477.44 L635.5,477.08 L635,476.46 L634.5,474.88 L634,476.18 L633.5,474.18 L633,473.03 L632.5,472.49 L632,471.67 L631.5,472.32 L631,469.38 L630.5,469.78 L630,470.04 L629.5,466.03 L629,465.79 L628.5,463.31 L628,461.5 L627.5,462.29 L627,457.59 L626.5,453.24 L626,448.16 L625.5,444.96 L625,440.53 L624.5,436.65 L624,432.18 L623.5,428.54 L623,425.16 L622.5,422.11 L622,416.42 L621.5,413.52 L621,410.14 L620.5,404.96 L620,400.37 L619.5,401.3 L619,398.16 L618.5,397.31 L618,397.6 L617.5,396.17 L617,394.1 L616.5,393.89 L616,394.85 L615.5,395.56 L615,399.17 L614.5,400.16 L614,404.41 L613.5,405.64 L613,408.74 L612.5,410.4 L612,413.22 L611.5,413.85 L611,415.75 L610.5,418.44 L610,418.03 L609.5,419.46 L609,420.59 L608.5,421.68 L608,422.97 L607.5,425.14 L607,425.23 L606.5,427.77 L606,428.91 L605.5,427.61 L605,427.36 L604.5,426.19 L604,426.9 L603.5,427.7 L603,429.1 L602.5,426.65 L602,429.27 L601.5,433.05 L601,437.75 L600.5,442.48 L600,445.09 L599.5,448.09 L599,447.04 L598.5,448.87 L598,449.6 L597.5,453.11 L597,450.85 L596.5,453.25 L596,452.08 L595.5,452.66 L595,453.52 L594.5,451.53 L594,452.51 L593.5,452.5 L593,452.41 L592.5,451.92 L592,452.12 L591.5,452.23 L591,450.73 L590.5,451.26 L590,451.81 L589.5,452.32 L589,453.21 L588.5,454.63 L588,455.39 L587.5,457.27 L587,461.56 L586.5,459.91 L586,462.41 L585.5,462.81 L585,465.68 L584.5,468.94 L584,469.61 L583.5,471.51 L583,472.23 L582.5,474.08 L582,472.36 L581.5,469.59 L581,467.7 L580.5,465.25 L580,462.75 L579.5,461.74 L579,458.39 L578.5,458.02 L578,455.34 L577.5,452.67 L577,450.31 L576.5,446.31 L576,445.07 L575.5,444.3 L575,443.48 L574.5,441.58 L574,441.76 L573.5,441.13 L573,439.35 L572.5,437.81 L572,436.82 L571.5,438.68 L571,435.52 L570.5,434.69 L570,436.49 L569.5,434.07 L569,435.79 L568.5,434 L568,432.31 L567.5,431.13 L567,430.69 L566.5,429.25 L566,429.44 L565.5,427.98 L565,427.39 L564.5,427.17 L564,427.38 L563.5,424.51 L563,423.36 L562.5,422.08 L562,419.14 L561.5,418.96 L561,417.56 L560.5,415.94 L560,414.66 L559.5,412.67 L559,411.36 L558.5,409.67 L558,405.72 L557.5,403.11 L557,398.23 L556.5,394.33 L556,391.1 L555.5,390.41 L555,385.15 L554.5,380.29 L554,377.6 L553.5,376.07 L553,373.1 L552.5,370.55 L552,369.21 L551.5,367.09 L551,364.16 L550.5,363.15 L550,360.04 L549.5,358.2 L549,360.34 L548.5,354.91 L548,354.03 L547.5,350.5 L547,346.29 L546.5,342.06 L546,338.83 L545.5,335.07 L545,330.1 L544.5,327.63 L544,322.31 L543.5,321.35 L543,321.96 L542.5,320.31 L542,319.23 L541.5,318.55 L541,318.19 L540.5,318.23 L540,318.82 L539.5,317.62 L539,314.17 L538.5,312.8 L538,313.9 L537.5,310.28 L537,306.96 L536.5,306.36 L536,304.36 L535.5,302.35 L535,300.73 L534.5,302.76 L534,304.93 L533.5,307.16 L533,309.26 L532.5,311.25 L532,312.41 L531.5,315.22 L531,318.51 L530.5,321.27 L530,325.45 L529.5,329.18 L529,331.87 L528.5,335.57 L528,338.4 L527.5,342.7 L527,345.25 L526.5,348.81 L526,351.02 L525.5,354.86 L525,356.75 L524.5,360.47 L524,365.34 L523.5,365.24 L523,367.58 L522.5,370.3 L522,372.21 L521.5,375.99 L521,377.38 L520.5,378.43 L520,380.06 L519.5,382.47 L519,384.33 L518.5,388.39 L518,388.28 L517.5,390.71 L517,392.41 L516.5,394.59 L516,396.99 L515.5,398.73 L515,401.1 L514.5,396.67 L514,390.24 L513.5,385.03 L513,379.61 L512.5,373.51 L512,369.3 L511.5,363.36 L511,356.92 L510.5,352.11 L510,345.43 L509.5,335.2 L509,323.48 L508.5,313.06 L508,301.89 L507.5,290.58 L507,291.68 L506.5,292.85 L506,293.73 L505.5,294.67 L505,295.04 L504.5,308.11 L504,319.21 L503.5,332.61 L503,344.89 L502.5,355.95 L502,357.33 L501.5,359.43 L501,360.99 L500.5,364.14 L500,364.72 L499.5,364.69 L499,369.18 L498.5,367.62 L498,369.88 L497.5,374.03 L497,364.17 L496.5,358.18 L496,353.92 L495.5,346.67 L495,342.62 L494.5,336.52 L494,328.93 L493.5,323.07 L493,317.08 L492.5,313.46 L492,306.75 L491.5,301.45 L491,295.63 L490.5,292.74 L490,287.24 L489.5,283.54 L489,279.46 L488.5,275.42 L488,274.43 L487.5,272.06 L487,270.91 L486.5,269.03 L486,269.04 L485.5,266.76 L485,265.45 L484.5,267.9 L484,272.25 L483.5,272.89 L483,277.69 L482.5,279.41 L482,280.55 L481.5,283.75 L481,286.81 L480.5,288.22 L480,290.74 L479.5,295.17 L479,296.4 L478.5,300.43 L478,304.14 L477.5,307.38 L477,309.25 L476.5,311.67 L476,315.08 L475.5,318.29 L475,321.95 L474.5,324.23 L474,327.36 L473.5,330.79 L473,335.11 L472.5,338.52 L472,340.88 L471.5,343.97 L471,350.05 L470.5,358.72 L470,367.54 L469.5,376.84 L469,387.19 L468.5,390.68 L468,390.31 L467.5,387.82 L467,385.41 L466.5,385.1 L466,383.16 L465.5,384.12 L465,380.06 L464.5,384.58 L464,385.58 L463.5,389.05 L463,391.32 L462.5,394.46 L462,397.53 L461.5,397.87 L461,401.18 L460.5,405.62 L460,405.47 L459.5,409.49 L459,414.16 L458.5,418.12 L458,422.22 L457.5,426.91 L457,433 L456.5,437.02 L456,437.1 L455.5,433.67 L455,436.24 L454.5,433.28 L454,431.75 L453.5,430.49 L453,429.9 L452.5,431.41 L452,427.1 L451.5,426.27 L451,425.89 L450.5,427.82 L450,426.15 L449.5,426.87 L449,427.32 L448.5,426.15 L448,426.99 L447.5,428.81 L447,427.6 L446.5,429.32 L446,426.8 L445.5,421.99 L445,417.93 L444.5,414.22 L444,409.67 L443.5,406.37 L443,405.12 L442.5,401.37 L442,397.07 L441.5,394.86 L441,392.49 L440.5,390.08 L440,385.43 L439.5,389.46 L439,389.45 L438.5,389.02 L438,385.82 L437.5,384.92 L437,380.86 L436.5,378.12 L436,373.82 L435.5,373.18 L435,368.71 L434.5,366.98 L434,361.79 L433.5,362.65 L433,365.25 L432.5,369.17 L432,370.98 L431.5,374.23 L431,378.2 L430.5,381.74 L430,383.9 L429.5,387.36 L429,389.85 L428.5,389.91 L428,390.72 L427.5,390.41 L427,390.02 L426.5,389.97 L426,389.95 L425.5,388.29 L425,389.09 L424.5,387.48 L424,389.95 L423.5,390.39 L423,395.71 L422.5,402.08 L422,406.83 L421.5,410.57 L421,417.1 L420.5,420.97 L420,427.09 L419.5,423.66 L419,420.82 L418.5,417.24 L418,413.23 L417.5,411.23 L417,416.18 L416.5,418.93 L416,424.15 L415.5,427.53 L415,431.8 L414.5,436.46 L414,440.92 L413.5,447.19 L413,454 L412.5,462.59 L412,472.83 L411.5,477.53 L411,482.74 L410.5,484.18 L410,483.71 L409.5,485.09 L409,486.28 L408.5,486.74 L408,487.56 L407.5,491.35 L407,490.45 L406.5,492.33 L406,491.23 L405.5,488.81 L405,488.01 L404.5,487.78 L404,485.14 L403.5,484.97 L403,482.3 L402.5,483.12 L402,480.57 L401.5,480.75 L401,479.35 L400.5,479.11 L400,478.23 L399.5,479.6 L399,478.38 L398.5,480.98 L398,476.59 L397.5,475.97 L397,477.03 L396.5,475.33 L396,475 L395.5,473.91 L395,476.81 L394.5,474.6 L394,472.41 L393.5,474.77 L393,472.13 L392.5,471.77 L392,473.71 L391.5,471.86 L391,473.31 L390.5,472.1 L390,471.17 L389.5,470.73 L389,472.06 L388.5,470.36 L388,471.23 L387.5,470.09 L387,468.82 L386.5,469.06 L386,466.99 L385.5,466.5 L385,465.18 L384.5,464.05 L384,462.7 L383.5,459.94 L383,458.7 L382.5,457.77 L382,457.57 L381.5,457.98 L381,458.19 L380.5,458.68 L380,458.69 L379.5,460.81 L379,460.96 L378.5,461.44 L378,459.47 L377.5,460.52 L377,459.81 L376.5,461.42 L376,459.27 L375.5,458.82 L375,456.42 L374.5,454.45 L374,454.11 L373.5,452.05 L373,449.94 L372.5,448.44 L372,447.6 L371.5,446.98 L371,444.15 L370.5,442.47 L370,441.69 L369.5,443.84 L369,446.91 L368.5,449.03 L368,451.39 L367.5,454.16 L367,457.22 L366.5,460.07 L366,460.21 L365.5,462.61 L365,465.5 L364.5,464.2 L364,461.06 L363.5,459.72 L363,455.06 L362.5,453.69 L362,451.67 L361.5,449.15 L361,448.42 L360.5,443.03 L360,442.61 L359.5,440.03 L359,440.84 L358.5,436.56 L358,437.47 L357.5,433.78 L357,433.44 L356.5,430.68 L356,429.42 L355.5,426.72 L355,424.37 L354.5,422.02 L354,420.24 L353.5,419.31 L353,416.8 L352.5,412.25 L352,412.09 L351.5,407.31 L351,405.16 L350.5,400.83 L350,397.04 L349.5,394.45 L349,392 L348.5,390.19 L348,386.03 L347.5,382.33 L347,383.36 L346.5,384.83 L346,386.54 L345.5,387.62 L345,388.71 L344.5,389.05 L344,389.49 L343.5,389.77 L343,388.25 L342.5,387.98 L342,385.62 L341.5,384.05 L341,381.32 L340.5,381.3 L340,378.1 L339.5,376.76 L339,374.66 L338.5,373.18 L338,372.14 L337.5,369.42 L337,367.72 L336.5,367.58 L336,364.94 L335.5,365.78 L335,367.53 L334.5,364.86 L334,365.81 L333.5,367.54 L333,364.5 L332.5,364.04 L332,362.92 L331.5,364.27 L331,362.37 L330.5,357.77 L330,354.55 L329.5,352.63 L329,348.52 L328.5,345.57 L328,342.15 L327.5,338.64 L327,338.57 L326.5,333.41 L326,331.49 L325.5,332.06 L325,331.81 L324.5,335.06 L324,332.87 L323.5,335.56 L323,336.42 L322.5,334.86 L322,336.64 L321.5,335.47 L321,336.87 L320.5,338.61 L320,339.19 L319.5,342.48 L319,341.31 L318.5,345.01 L318,346.63 L317.5,349.7 L317,349.18 L316.5,353.17 L316,353.04 L315.5,355.29 L315,358.66 L314.5,361.98 L314,361.47 L313.5,363.27 L313,366.87 L312.5,367.49 L312,369.82 L311.5,372.08 L311,372.71 L310.5,373.64 L310,369.17 L309.5,368.48 L309,366.68 L308.5,362.18 L308,355.69 L307.5,348.68 L307,341.77 L306.5,334.63 L306,333.33 L305.5,330.56 L305,330.78 L304.5,329.76 L304,329.88 L303.5,329.84 L303,329.39 L302.5,329.95 L302,327.63 L301.5,327.82 L301,326.25 L300.5,321.23 L300,317.44 L299.5,314.01 L299,309.48 L298.5,308.17 L298,310.07 L297.5,308.41 L297,308.05 L296.5,308.14 L296,307.9 L295.5,308.68 L295,308.35 L294.5,307.29 L294,307.3 L293.5,309.13 L293,308.35 L292.5,307.25 L292,303.95 L291.5,300.04 L291,297.44 L290.5,294.74 L290,289.81 L289.5,285.46 L289,282.23 L288.5,279.71 L288,276.52 L287.5,274.28 L287,270.45 L286.5,267.8 L286,265.09 L285.5,261.16 L285,258.43 L284.5,257.85 L284,254.55 L283.5,251.56 L283,252.08 L282.5,252.75 L282,252.02 L281.5,250.46 L281,251.81 L280.5,251.49 L280,251.55 L279.5,249.58 L279,249.3 L278.5,250.27 L278,249.01 L277.5,248.28 L277,256.1 L276.5,260.98 L276,267.42 L275.5,274.23 L275,281.04 L274.5,288.27 L274,296.19 L273.5,299.14 L273,304.04 L272.5,307.1 L272,309.87 L271.5,314.9 L271,316.43 L270.5,318.51 L270,321.79 L269.5,324.27 L269,324.48 L268.5,327.32 L268,329.96 L267.5,330.63 L267,332.38 L266.5,334 L266,337.96 L265.5,340.08 L265,340.22 L264.5,346.88 L264,352.44 L263.5,358.11 L263,363.55 L262.5,371.38 L262,371.16 L261.5,371.5 L261,372.82 L260.5,372.29 L260,372.29 L259.5,373.85 L259,375.66 L258.5,377.06 L258,377.09 L257.5,375.82 L257,377.91 L256.5,377.81 L256,375.16 L255.5,370.33 L255,364.54 L254.5,357.91 L254,353.72 L253.5,347.88 L253,343.21 L252.5,335.13 L252,333.83 L251.5,333.49 L251,328.14 L250.5,326.02 L250,325.09 L249.5,321.8 L249,320.61 L248.5,323.21 L248,328.91 L247.5,335.05 L247,341.77 L246.5,349.45 L246,349.37 L245.5,344.59 L245,339.9 L244.5,334.11 L244,328.37 L243.5,324.39 L243,318.46 L242.5,313.65 L242,309.53 L241.5,305.05 L241,299.17 L240.5,299.41 L240,296.27 L239.5,294.29 L239,293.32 L238.5,291.53 L238,290.77 L237.5,289.69 L237,287.57 L236.5,287.4 L236,286.65 L235.5,286.03 L235,282.47 L234.5,282.47 L234,284.59 L233.5,282.91 L233,283.42 L232.5,284.02 L232,284.54 L231.5,284.76 L231,285.8 L230.5,285.76 L230,285.25 L229.5,284.17 L229,283.64 L228.5,282.11 L228,279.32 L227.5,279 L227,277.19 L226.5,276.21 L226,275.44 L225.5,272.62 L225,270.36 L224.5,269.09 L224,267.78 L223.5,265.08 L223,264.43 L222.5,263.04 L222,271.75 L221.5,277.14 L221,284.87 L220.5,292.12 L220,299.84 L219.5,306.9 L219,314.69 L218.5,325.27 L218,330.59 L217.5,337.51 L217,343.91 L216.5,352.08 L216,357.24 L215.5,355.33 L215,355.7 L214.5,355.25 L214,355.15 L213.5,355.49 L213,357.72 L212.5,355.8 L212,359.43 L211.5,364.26 L211,367.09 L210.5,371.16 L210,373.78 L209.5,377.14 L209,381.14 L208.5,381.97 L208,384.26 L207.5,381.38 L207,382.49 L206.5,380.98 L206,381.57 L205.5,381.65 L205,381.37 L204.5,384.85 L204,386.36 L203.5,387.53 L203,390.61 L202.5,391.8 L202,395.54 L201.5,396.72 L201,400.52 L200.5,402.38 L200,403.23 L199.5,406.74 L199,408.82 L198.5,407.88 L198,405.93 L197.5,403.06 L197,401.32 L196.5,398.1 L196,397.7 L195.5,393.87 L195,390.25 L194.5,393.22 L194,396.12 L193.5,400.32 L193,401.96 L192.5,405.9 L192,407.83 L191.5,412.27 L191,414.54 L190.5,418.78 L190,421.31 L189.5,422.88 L189,427.35 L188.5,426.92 L188,424.34 L187.5,422.88 L187,420.05 L186.5,418.06 L186,415.68 L185.5,413.79 L185,412.13 L184.5,409.69 L184,407.57 L183.5,409.21 L183,414.4 L182.5,421.91 L182,430.15 L181.5,432.76 L181,440.46 L180.5,444.97 L180,452.53 L179.5,452.94 L179,450.57 L178.5,450.26 L178,447.84 L177.5,446.58 L177,444.56 L176.5,447.99 L176,442.83 L175.5,441.4 L175,440.92 L174.5,440.4 L174,439.37 L173.5,441.12 L173,438.66 L172.5,438.71 L172,437.51 L171.5,437.35 L171,438.44 L170.5,436.21 L170,435.8 L169.5,441.62 L169,448.89 L168.5,454.09 L168,459.23 L167.5,466.3 L167,472.16 L166.5,478.69 L166,481.56 L165.5,480.27 L165,480.01 L164.5,480.2 L164,480.49 L163.5,478.47 L163,478.11 L162.5,476.55 L162,477.45 L161.5,478.76 L161,476.67 L160.5,476.41 L160,473.49 L159.5,472.68 L159,470.56 L158.5,470.01 L158,467.84 L157.5,466.17 L157,464.92 L156.5,464.16 L156,462.55 L155.5,461.6 L155,461.49 L154.5,459.7 L154,459.86 L153.5,457.09 L153,456.9 L152.5,457.16 L152,454.74 L151.5,453.88 L151,454.45 L150.5,453.74 L150,451.77 L149.5,451.86 L149,449.39 L148.5,447.11 L148,446.21 L147.5,447.23 L147,444.64 L146.5,445.29 L146,442.04 L145.5,443.02 L145,441.15 L144.5,443.51 L144,445.21 L143.5,447.53 L143,452.95 L142.5,454.37 L142,455.4 L141.5,458.57 L141,460.54 L140.5,463.57 L140,467.04 L139.5,463.7 L139,461.9 L138.5,459.83 L138,457.69 L137.5,457.25 L137,456.93 L136.5,452.66 L136,449.07 L135.5,449.08 L135,447.88 L134.5,444.65 L134,443.22 L133.5,442.37 L133,440.31 L132.5,439.2 L132,437.73 L131.5,437 L131,435.04 L130.5,435.06 L130,435.11 L129.5,432.81 L129,430.89 L128.5,430.9 L128,430.16 L127.5,433.35 L127,429.88 L126.5,430.61 L126,429.71 L125.5,429.34 L125,429.05 L124.5,425.6 L124,422.6 L123.5,419.45 L123,415.71 L122.5,413.13 L122,408.77 L121.5,407.4 L121,402.62 L120.5,401.78 L120,401.38 L119.5,400.72 L119,402.76 L118.5,400.12 L118,399.35 L117.5,399.93 L117,399.12 L116.5,398.08 L116,399.4 L115.5,399.78 L115,397.38 L114.5,395.9 L114,397.11 L113.5,396.22 L113,396.38 L112.5,394.08 L112,395.1 L111.5,392.18 L111,393.11 L110.5,390.9 L110,390.33 L109.5,391.37 L109,392.59 L108.5,392.21 L108,395.68 L107.5,394.03 L107,394.63 L106.5,394.32 L106,394.58 L105.5,395.96 L105,396.4 L104.5,396.01 L104,397.68 L103.5,396.51 L103,397.31 L102.5,398.97 L102,398.84 L101.5,400.35 L101,402.31 L100.5,400.85 L100,401.58 L99.5,402.07 L99,405.27 L98.5,401.96 L98,402.42 L97.5,403.86 L97,406.56 L96.5,405 L96,407.24 L95.5,407.08 L95,405.89 L94.5,407.28 L94,407.76 L93.5,408.32 L93,408.3 L92.5,409.39 L92,409.36 L91.5,409.58 L91,410.09 L90.5,410.22 L90,410.22 L89.5,411.8 L89,409.88 L88.5,410.28 L88,410.64 L87.5,409.92 L87,410.74 L86.5,412.01 L86,411.1 L85.5,411.49 L85,412.53 L84.5,409.22 L84,408.92 L83.5,407.66 L83,407.57 L82.5,406.33 L82,404.77 L81.5,403.22 L81,403.2 L80.5,404.22 L80,401.42 L79.5,399.66 L79,400.07 L78.5,399.09 L78,398.13 L77.5,397.21 L77,395.44 L76.5,394.04 L76,395.25 L75.5,395.04 L75,391.64 L74.5,390.85 L74,390.92 L73.5,389.91 L73,389.89 L72.5,391.61 L72,391.17 L71.5,390.2 L71,390.57 L70.5,390.97 L70,390.51 L69.5,387.32 L69,384.31 L68.5,381.03 L68,379.17 L67.5,377 L67,370.94 L66.5,369.5 L66,367.55 L65.5,361.65 L65,358.37 L64.5,355.56 L64,352.67 L63.5,353.92 L63,354.86 L62.5,353.67 L62,355.04 L61.5,357.63 L61,358.95 L60.5,360.56 L60,360.16 L59.5,362.39 L59,366.49 L58.5,367.86 L58,369.19 L57.5,371.88 L57,372.49 L56.5,374.91 L56,375.96 L55.5,373.14 L55,371.21 L54.5,370.45 L54,369.05 L53.5,369.41Z" fill="#000" stroke="#000" stroke-width="1.4" stroke-linejoin="miter" stroke-miterlimit="2"/>
<path d="M54.5,357.5V360.99M56.5,363.98V368.44M59.5,341.38V358.15M62.5,336.82V343.4M64.5,337.28V344.09M66.5,352.57V358.79M69.5,359.35V373.5M71.5,365.55V377.33M74.5,355.77V373.23M77.5,372.86V383.77M82.5,375.02V391.34M85.5,378.35V392.69M88.5,386.1V397.72M90.5,396.4V404.11M94.5,399.74V403.9M97.5,396.29V402.77M100.5,393.34V397.47M103.5,389.41V391.43M107.5,385.69V391.63M110.5,382.98V385.35M115.5,374.92V387.51M118.5,380.11V392.15M120.5,386.23V395.56M123.5,401.03V406.75M127.5,411.1V420.44M129.5,416.38V425.93M131.5,410.75V421.75M136.5,435.03V446.07M139.5,436.66V454.72M142.5,428.41V438.34M145.5,432.43V436.99M148.5,437.32V440.86M151.5,436.8V447.51M155.5,441.45V448.94M160.5,450.79V457.33M164.5,459.87V470.54M168.5,428.72V452.46M172.5,419.27V428.11M175.5,427.69V433.63M177.5,419.24V432.42M180.5,408.98V421.71M185.5,376.23V393.44M188.5,387.16V408.02M193.5,303.23V366.07M197.5,364.81V392.8M202.5,366V378.44M204.5,363.75V373.81M207.5,344V354.94M210.5,323.83V345.35M212.5,284.86V303.74M214.5,311.58V343.19M216.5,319.29V345.28M219.5,274.32V302.73M224.5,219.06V233.51M228.5,238.44V266.31M232.5,232.77V248.13M235.5,255.87V270.88M238.5,263.09V273.25M243.5,259.14V290.06M245.5,279.77V308.96M247.5,309.92V324.1M250.5,301.59V315.2M253.5,311.89V330.85M256.5,361.47V369.42M259.5,365.64V372.66M262.5,353.28V360.66M264.5,341.54V349.44M268.5,268.25V298.8M271.5,257.52V294.56M274.5,260.19V282.07M277.5,205.67V225.1M280.5,211.65V229.97M285.5,238.29V250.53M288.5,251.86V261.29M290.5,261.14V283.31M293.5,279.92V289.74M296.5,286.45V297.52M300.5,294.04V307.38M302.5,318.52V322.23M305.5,317.88V322.66M309.5,349.78V356.89M314.5,352.76V358.47M317.5,335.23V341.13M319.5,322.71V331.6M321.5,317.36V330.14M325.5,325.5V328.81M328.5,323.17V328.49M333.5,348.13V355.57M336.5,343.24V356.88M338.5,357.26V365.87M342.5,359.18V376.81M347.5,348.42V369.88M352.5,388.48V394.88M357.5,416.65V422.7M360.5,424.33V435.88M363.5,437.46V444.51M365.5,442.01V452.19M370.5,433.17V437.37M372.5,439.62V442.76M375.5,439.89V448.58M380.5,447.46V450.46M382.5,443.56V450.8M387.5,457.67V461.99M390.5,456.5V463.69M394.5,462.94V466.58M399.5,465.76V475.38M402.5,467.22V477.57M405.5,474.65V480.37M407.5,472.39V479.38M410.5,442.54V456.96M413.5,403.76V441.46M416.5,411.91V420.88M419.5,390.49V406.45M423.5,372.79V385.76M427.5,376.33V382.63M430.5,364.48V371.92M435.5,343.87V354.62M438.5,351.27V369.25M440.5,369.42V376.32M442.5,387.72V392.07M445.5,409.51V412.01M448.5,421.24V423.89M451.5,411.48V419.64M454.5,406.97V413.99M458.5,388.17V411.96M461.5,368.9V384.33M466.5,363.68V375.18M468.5,355.56V374.16M471.5,325.57V332.52M473.5,312.62V327.26M475.5,306.67V312.77M478.5,293.27V299.86M481.5,279.82V283.81M487.5,226.11V264.6M490.5,200.1V224.43M493.5,231.38V278.07M496.5,312.14V330.33M499.5,329.09V350.5M502.5,320.32V327.9M507.5,231.59V253.7M511.5,281.42V312.07M515.5,343.81V375.95M519.5,355.64V372.42M522.5,350.13V363.61M525.5,318.84V334.12M527.5,320.93V329.44M530.5,303.81V309.79M534.5,291.77V301.07M537.5,286.13V298.58M539.5,296.33V302.25M543.5,297.25V305.44M546.5,324.52V334.67M549.5,328.97V344.64M552.5,355.18V358.52M556.5,372.71V378.47M562.5,410.43V412.73M565.5,419V422.55M570.5,424.43V426.93M578.5,447.12V451.47M581.5,460V464.7M586.5,454.02V457.3M590.5,441.76V446.09M600.5,419.54V435.47M605.5,409.95V417.11M610.5,404V412.84M612.5,399.11V408.26M615.5,369.96V376.39M618.5,382.07V391.64M622.5,405.55V411.63M627.5,444.4V451.6M629.5,454.42V457.7M634.5,460.18V466.93M639.5,471.2V474.87M642.5,462.77V468.54M645.5,458.2V461.16M649.5,453.6V457.86M653.5,456.27V464.41M655.5,451.79V466.53M657.5,451.79V461.43M660.5,461.67V465.38M664.5,465.45V468.22M666.5,469.59V475.9M669.5,479.42V484.27M673.5,480.6V485.41M678.5,490.22V497.41M682.5,473.53V482.51M687.5,467.14V479.25M690.5,465.9V484.98M693.5,486.48V492.37M698.5,501.08V505.43M703.5,497.59V503.61M705.5,491.79V496.65M709.5,481.22V486.56M713.5,482.48V491.98M716.5,487.9V493.35M718.5,495.47V497.48M721.5,497.57V499.97M724.5,479.22V493.17M727.5,479.49V484.94M731.5,496.08V503.76M734.5,493.59V501.19M736.5,485.95V489.59M739.5,482.2V487.4M742.5,473.89V481.79M745.5,480.73V486.64M747.5,480.15V486.91M752.5,460.58V473.12M754.5,466.6V475.04M759.5,455.65V467.18M762.5,451.44V461.66M767.5,448.77V462.67M770.5,479.51V485.07M773.5,492.03V498.9M777.5,494.12V501.55M780.5,496.05V500.61M785.5,499.8V504.55M788.5,507.48V512.07M792.5,516.85V523.47M795.5,523.51V527.36M797.5,532.69V537.81M802.5,546.27V549.14M810.5,537.42V541.41M814.5,520.51V525.81M818.5,498.11V513.76M821.5,508.82V515.38M824.5,508.86V513.16M828.5,499.25V508.96M831.5,494.76V512.23M833.5,477.04V489.05M837.5,458.69V469.53M839.5,440.96V460.34M844.5,435.72V454.95M847.5,434.29V442.01M850.5,427.96V446.17M854.5,443.53V465.59M856.5,458.7V468.9M858.5,455.14V464.98M861.5,455.34V464.12M865.5,457.24V461.29M867.5,441.29V455.89M870.5,437.23V447.72M875.5,438.58V451.94M879.5,457.59V464.74M882.5,463.95V469.43M885.5,462.52V468.77M888.5,473.11V480.04M892.5,484.97V494.52M896.5,501.69V510.45M898.5,497.08V507.03M901.5,505.11V510.22M904.5,510.04V518.79M907.5,494.28V503.86M910.5,482.89V495.33M913.5,495.01V511.98M918.5,494.44V503.79M922.5,487.56V492.32M927.5,477.38V485.83M930.5,502.39V507.32M934.5,520.94V525.08M938.5,526.64V535.93M941.5,532.54V540.95M944.5,536.29V540.07M949.5,547.74V550.65M953.5,548.85V558.02M957.5,544.76V548.43M960.5,534.99V544.84M962.5,545.19V556.55M966.5,560.64V568.39M970.5,562.5V569.22M973.5,558.34V567.76M976.5,554.41V561.09M980.5,549.08V554.38M984.5,549.12V552.21M986.5,555.58V558.63M989.5,551.38V558.93M992.5,545.29V550.51M997.5,542.6V548.79M1003.5,547.13V553.31M1008.5,566.19V569.93M1010.5,568.87V573.01M1014.5,579.3V588.82M1018.5,545.62V581.53M1022.5,566.45V571.33M1024.5,569.87V575.19M1035.5,557.69V561.14M1038.5,554.06V563.62M1043.5,559.93V568.63M1046.5,561.32V572.28M1050.5,571.14V575.31M1054.5,562.78V574.11M1057.5,569.32V575.04M1061.5,575.48V585.92M1065.5,583.06V586M1074.5,581.23V589.98M1079.5,587.97V602.48M1081.5,588.18V596.81M1084.5,580.34V590.27M1087.5,563.67V573.01M1090.5,535.22V550.91M1095.5,547.2V553.18M1098.5,568.39V580.36M1101.5,576.51V583.7M1105.5,587.06V593.04M1109.5,600.65V604.75M1113.5,613.62V617.66M1116.5,608.49V612.17M1121.5,614.17V621.13M1123.5,613.2V619.96M1127.5,624.03V632.68M1129.5,622.55V633.06M1134.5,630.42V634.98M1137.5,628.09V633.23M1140.5,625.89V630.38M1143.5,615.02V622M1147.5,608.31V612.02M1160.5,630.65V635.29M1168.5,607.02V615.5M1171.5,597.17V604.55M1176.5,593.13V605.35M1178.5,597V610.67M1181.5,611.11V618.61M1185.5,609.92V617.43M1188.5,604.55V616.88M1197.5,614.64V616.93M1209.5,600.98V606.34M1212.5,611.47V615M1215.5,615V620.06M1227.5,609.5V629.85M1230.5,595.07V615.86M1232.5,606.93V620.76M1234.5,599.36V614.97M1236.5,605.44V621.95M1239.5,600.02V621.43M1244.5,623.65V631.5M1248.5,619.69V622.94M1252.5,614.36V617.87M1255.5,592.46V599.22M1258.5,586.05V594.67M1260.5,595.76V602.95M1264.5,591.15V599.96M1267.5,583.17V592.43M1270.5,570.69V585.08M1274.5,587.56V596.02M1276.5,596.32V607.69M1279.5,590.13V606.31M1283.5,601.95V613.82M1287.5,599.55V605.07M1291.5,589.18V609.58M1296.5,612.27V617.26M1299.5,606.11V616.58M1304.5,608.09V614.7M1308.5,607.92V612.52M1310.5,605.16V610.87M1312.5,598.33V606.02M1316.5,593.05V603.73M1319.5,595.24V608.98M1322.5,593.26V602.07M1325.5,602.19V612.43M1328.5,606.24V614.22M1331.5,595.29V606.42M1334.5,595.54V602.48M1337.5,592.25V596.29M1340.5,584.55V599.04M1343.5,595.21V604.74M1346.5,576.41V589.44M1351.5,565.98V584.21M1355.5,593.98V602.01M1357.5,595.79V602.66M1361.5,602.74V606.84M1365.5,595.34V603.16M1368.5,587.28V592.02M1371.5,577.16V588.05M1373.5,577.3V584.66M1376.5,597.51V608.63M1381.5,622.96V629.3M1383.5,647.84V651.49M1386.5,659.51V667.74M1391.5,645.88V650.68M1395.5,646.92V652.67M1397.5,652.4V656.47M1400.5,642.34V650.25M1403.5,632.41V645.29M1406.5,624.98V639.42M1410.5,624.53V628.66M1413.5,632.77V643.14M1415.5,629.4V639.56M1418.5,625.46V628.42M1420.5,620.41V624.85M1423.5,624.2V628.28M1433.5,642.11V645.92M1435.5,647.39V653.19M1439.5,657.55V661.12M1441.5,658.86V663.02M1444.5,665.19V668.27M1449.5,681.61V686.98M1453.5,682.35V685.95M1456.5,667.39V676.95M1460.5,691.35V694.38M1464.5,688.78V695.62M1468.5,677.6V684M1471.5,673.71V676.44M1474.5,672.84V686.54M1477.5,666.07V670.78M1482.5,644.13V656.8" stroke="#13b878" stroke-width="1" fill="none"/>
<line x1="1484.5" y1="146" x2="1484.5" y2="767" stroke="#8a8a8a" stroke-width="1.2"/>
<g font-size="16" fill="#444444">
<g font-size="16.5" letter-spacing="0.8"><text x="1485" y="232">60</text>
<text x="1485" y="409">50</text>
<text x="1485" y="587">40</text>
<text x="1485" y="764">30</text></g>
<text x="1504.5" y="501">$100k</text>
<text x="1505" y="764">$60k</text>
</g>
<g font-size="17" fill="#3d4350" text-anchor="middle"><text x="159.5" y="802.5">24 Feb</text><text x="269.5" y="802.5">10 Mar</text><text x="379.5" y="802.5">24 Mar</text><text x="489.5" y="802.5">7 Apr</text><text x="599.5" y="802.5">21 Apr</text><text x="709.5" y="802.5">5 May</text><text x="819.5" y="802.5">19 May</text><text x="929.5" y="802.5">2 Jun</text><text x="1039.5" y="802.5">16 Jun</text><text x="1149.5" y="802.5">30 Jun</text><text x="1259.5" y="802.5">14 Jul</text><text x="1369.5" y="802.5">28 Jul</text><text x="1479.5" y="802.5">11 Aug</text></g>
<text x="34.4" y="866.5" font-size="18.65" fill="#888888">© 2025 Glassnode. All Rights Reserved.</text>
<g fill="none" stroke="#000" stroke-width="3.8"><circle cx="1405.9" cy="859.9" r="7.95"/><path d="M1414,851 V869.5 C1414,874 1410.5,874.6 1406.2,874.6 C1402.5,874.6 1400,873.6 1398.4,871.6"/><path d="M1421.8,843.2 V869"/><circle cx="1436.7" cy="859.9" r="7.95"/><path d="M1444.6,851 V869"/><path d="M1462.70,854.90 C1461.50,852.90 1459.20,852.00 1457.20,852.00 C1453.40,852.00 1451.80,853.60 1451.80,855.70 C1451.80,858.60 1454.40,859.30 1457.20,859.95 C1460.00,860.85 1462.60,861.30 1462.60,864.20 C1462.60,866.30 1461.00,867.90 1457.20,867.90 C1455.20,867.90 1452.90,867.00 1451.70,865.00"/><path d="M1478.10,854.90 C1476.90,852.90 1474.60,852.00 1472.60,852.00 C1468.80,852.00 1467.20,853.60 1467.20,855.70 C1467.20,858.60 1469.80,859.30 1472.60,859.95 C1475.40,860.85 1478.00,861.30 1478.00,864.20 C1478.00,866.30 1476.40,867.90 1472.60,867.90 C1470.60,867.90 1468.30,867.00 1467.10,865.00"/><path d="M1485.05,851 V869 M1485.05,859 C1485.05,854.5 1487.5,852.15 1491.5,852.15 C1495.5,852.15 1497.6,854.5 1497.6,858.5 V869"/><circle cx="1512.2" cy="860.05" r="7.95"/><circle cx="1534.2" cy="860.05" r="7.95"/><path d="M1542.1,843.4 V869"/><path d="M1548.6,859.25 H1564.4 A7.9,7.9 0 1 0 1562.6,865.1" stroke-linecap="butt"/></g>
</svg>
</body></html>
